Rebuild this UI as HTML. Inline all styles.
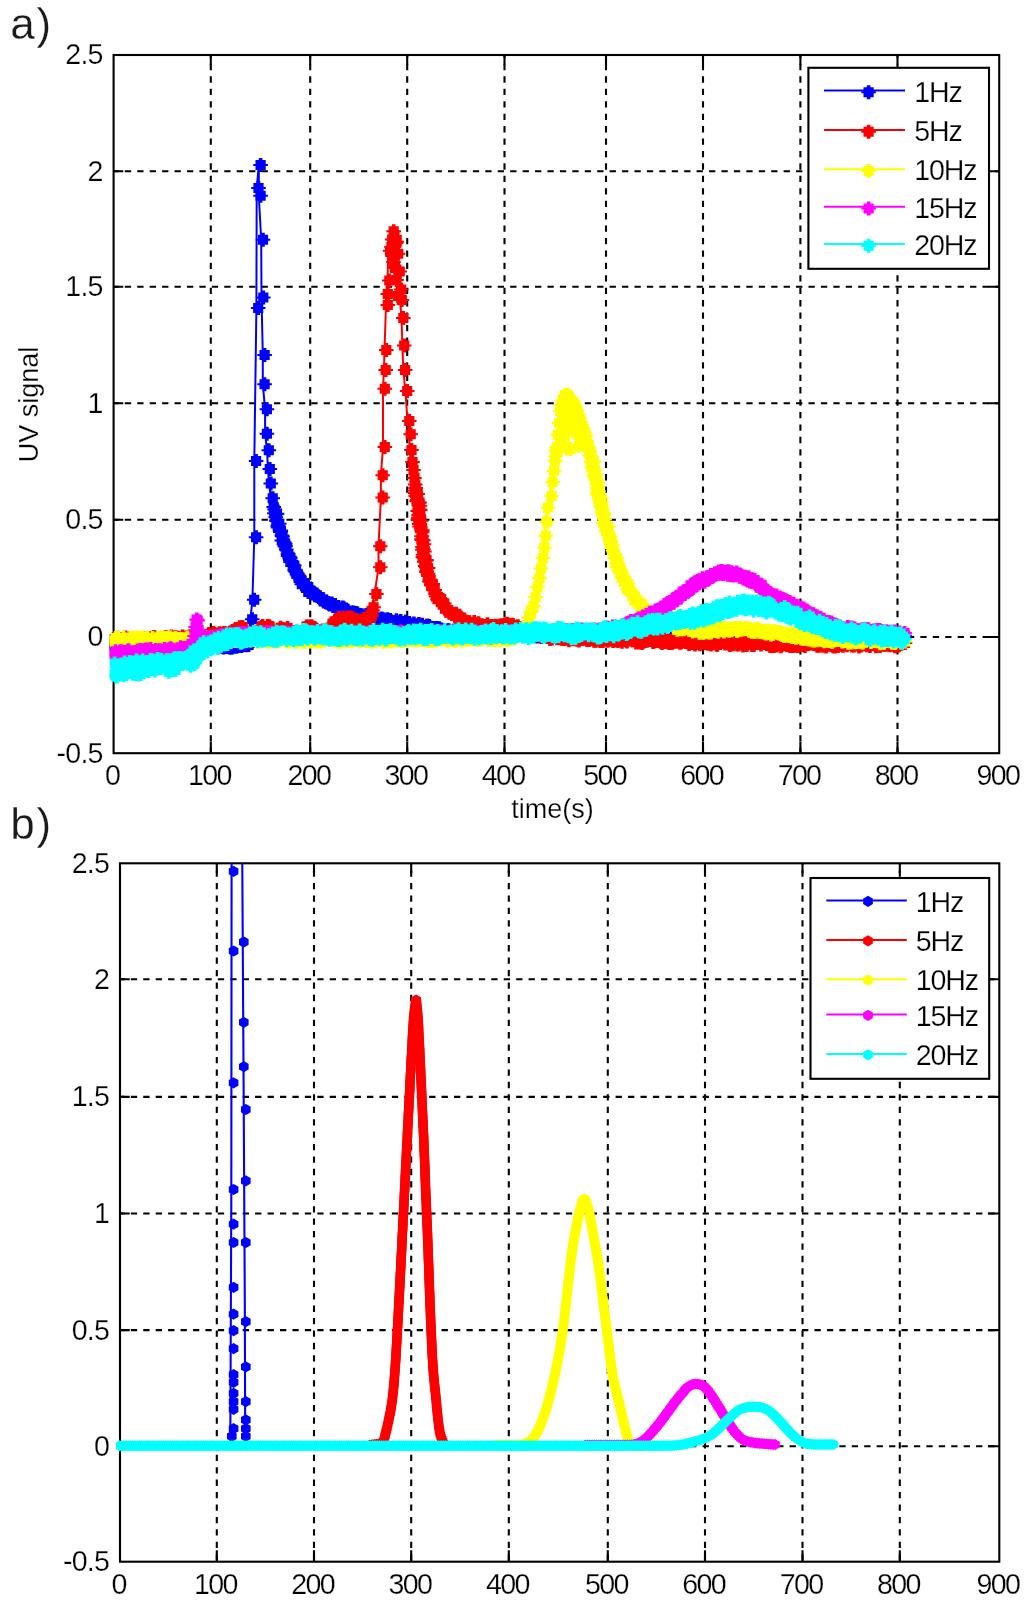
<!DOCTYPE html>
<html lang="en"><head><meta charset="utf-8"><title>UV signal vs time</title>
<style>html,body{margin:0;padding:0;background:#fff;overflow:hidden}svg{display:block;will-change:transform}</style></head><body>
<svg width="1024" height="1609" viewBox="0 0 1024 1609" role="img" aria-label="UV signal versus time at 1, 5, 10, 15 and 20 Hz: a) measured, b) simulated">
<rect width="1024" height="1609" fill="#fff"/>
<defs>
<marker id="mab" markerUnits="userSpaceOnUse" markerWidth="20" markerHeight="18" refX="7.2" refY="9" orient="0"><polygon transform="translate(9 9)" points="-1.8,-7.0 1.8,-7.0 1.8,-5.0 5.1,-5.0 5.1,-1.0 7.3,-1.0 7.3,1.0 5.1,1.0 5.1,5.0 1.8,5.0 1.8,7.0 -1.8,7.0 -1.8,5.0 -5.1,5.0 -5.1,1.0 -7.3,1.0 -7.3,-1.0 -5.1,-1.0 -5.1,-5.0 -1.8,-5.0" fill="#0000ff"/></marker>
<marker id="mbb" markerUnits="userSpaceOnUse" markerWidth="14" markerHeight="14" refX="7" refY="7" orient="0"><polygon transform="translate(7 7)" points="0.00,-5.50 -2.30,-3.98 -4.76,-2.75 -4.60,-0.00 -4.76,2.75 -2.30,3.98 -0.00,5.50 2.30,3.98 4.76,2.75 4.60,0.00 4.76,-2.75 2.30,-3.98" fill="#0000ff"/></marker>
<polygon id="sab" points="-1.8,-7.0 1.8,-7.0 1.8,-5.0 5.1,-5.0 5.1,-1.0 7.3,-1.0 7.3,1.0 5.1,1.0 5.1,5.0 1.8,5.0 1.8,7.0 -1.8,7.0 -1.8,5.0 -5.1,5.0 -5.1,1.0 -7.3,1.0 -7.3,-1.0 -5.1,-1.0 -5.1,-5.0 -1.8,-5.0" fill="#0000ff"/>
<polygon id="sbb" points="0.00,-5.60 -2.40,-4.16 -4.85,-2.80 -4.80,-0.00 -4.85,2.80 -2.40,4.16 -0.00,5.60 2.40,4.16 4.85,2.80 4.80,0.00 4.85,-2.80 2.40,-4.16" fill="#0000ff"/>
<marker id="mar" markerUnits="userSpaceOnUse" markerWidth="20" markerHeight="18" refX="7.2" refY="9" orient="0"><polygon transform="translate(9 9)" points="-1.8,-7.0 1.8,-7.0 1.8,-5.0 5.1,-5.0 5.1,-1.0 7.3,-1.0 7.3,1.0 5.1,1.0 5.1,5.0 1.8,5.0 1.8,7.0 -1.8,7.0 -1.8,5.0 -5.1,5.0 -5.1,1.0 -7.3,1.0 -7.3,-1.0 -5.1,-1.0 -5.1,-5.0 -1.8,-5.0" fill="#ff0000"/></marker>
<marker id="mbr" markerUnits="userSpaceOnUse" markerWidth="14" markerHeight="14" refX="7" refY="7" orient="0"><polygon transform="translate(7 7)" points="0.00,-5.50 -2.30,-3.98 -4.76,-2.75 -4.60,-0.00 -4.76,2.75 -2.30,3.98 -0.00,5.50 2.30,3.98 4.76,2.75 4.60,0.00 4.76,-2.75 2.30,-3.98" fill="#ff0000"/></marker>
<polygon id="sar" points="-1.8,-7.0 1.8,-7.0 1.8,-5.0 5.1,-5.0 5.1,-1.0 7.3,-1.0 7.3,1.0 5.1,1.0 5.1,5.0 1.8,5.0 1.8,7.0 -1.8,7.0 -1.8,5.0 -5.1,5.0 -5.1,1.0 -7.3,1.0 -7.3,-1.0 -5.1,-1.0 -5.1,-5.0 -1.8,-5.0" fill="#ff0000"/>
<polygon id="sbr" points="0.00,-5.60 -2.40,-4.16 -4.85,-2.80 -4.80,-0.00 -4.85,2.80 -2.40,4.16 -0.00,5.60 2.40,4.16 4.85,2.80 4.80,0.00 4.85,-2.80 2.40,-4.16" fill="#ff0000"/>
<marker id="may" markerUnits="userSpaceOnUse" markerWidth="20" markerHeight="18" refX="7.2" refY="9" orient="0"><polygon transform="translate(9 9)" points="-1.8,-7.0 1.8,-7.0 1.8,-5.0 5.1,-5.0 5.1,-1.0 7.3,-1.0 7.3,1.0 5.1,1.0 5.1,5.0 1.8,5.0 1.8,7.0 -1.8,7.0 -1.8,5.0 -5.1,5.0 -5.1,1.0 -7.3,1.0 -7.3,-1.0 -5.1,-1.0 -5.1,-5.0 -1.8,-5.0" fill="#ffff00"/></marker>
<marker id="mby" markerUnits="userSpaceOnUse" markerWidth="14" markerHeight="14" refX="7" refY="7" orient="0"><polygon transform="translate(7 7)" points="0.00,-5.50 -2.30,-3.98 -4.76,-2.75 -4.60,-0.00 -4.76,2.75 -2.30,3.98 -0.00,5.50 2.30,3.98 4.76,2.75 4.60,0.00 4.76,-2.75 2.30,-3.98" fill="#ffff00"/></marker>
<polygon id="say" points="-1.8,-7.0 1.8,-7.0 1.8,-5.0 5.1,-5.0 5.1,-1.0 7.3,-1.0 7.3,1.0 5.1,1.0 5.1,5.0 1.8,5.0 1.8,7.0 -1.8,7.0 -1.8,5.0 -5.1,5.0 -5.1,1.0 -7.3,1.0 -7.3,-1.0 -5.1,-1.0 -5.1,-5.0 -1.8,-5.0" fill="#ffff00"/>
<polygon id="sby" points="0.00,-5.60 -2.40,-4.16 -4.85,-2.80 -4.80,-0.00 -4.85,2.80 -2.40,4.16 -0.00,5.60 2.40,4.16 4.85,2.80 4.80,0.00 4.85,-2.80 2.40,-4.16" fill="#ffff00"/>
<marker id="mam" markerUnits="userSpaceOnUse" markerWidth="20" markerHeight="18" refX="7.2" refY="9" orient="0"><polygon transform="translate(9 9)" points="-1.8,-7.0 1.8,-7.0 1.8,-5.0 5.1,-5.0 5.1,-1.0 7.3,-1.0 7.3,1.0 5.1,1.0 5.1,5.0 1.8,5.0 1.8,7.0 -1.8,7.0 -1.8,5.0 -5.1,5.0 -5.1,1.0 -7.3,1.0 -7.3,-1.0 -5.1,-1.0 -5.1,-5.0 -1.8,-5.0" fill="#ff00ff"/></marker>
<marker id="mbm" markerUnits="userSpaceOnUse" markerWidth="14" markerHeight="14" refX="7" refY="7" orient="0"><polygon transform="translate(7 7)" points="0.00,-5.50 -2.30,-3.98 -4.76,-2.75 -4.60,-0.00 -4.76,2.75 -2.30,3.98 -0.00,5.50 2.30,3.98 4.76,2.75 4.60,0.00 4.76,-2.75 2.30,-3.98" fill="#ff00ff"/></marker>
<polygon id="sam" points="-1.8,-7.0 1.8,-7.0 1.8,-5.0 5.1,-5.0 5.1,-1.0 7.3,-1.0 7.3,1.0 5.1,1.0 5.1,5.0 1.8,5.0 1.8,7.0 -1.8,7.0 -1.8,5.0 -5.1,5.0 -5.1,1.0 -7.3,1.0 -7.3,-1.0 -5.1,-1.0 -5.1,-5.0 -1.8,-5.0" fill="#ff00ff"/>
<polygon id="sbm" points="0.00,-5.60 -2.40,-4.16 -4.85,-2.80 -4.80,-0.00 -4.85,2.80 -2.40,4.16 -0.00,5.60 2.40,4.16 4.85,2.80 4.80,0.00 4.85,-2.80 2.40,-4.16" fill="#ff00ff"/>
<marker id="mac" markerUnits="userSpaceOnUse" markerWidth="20" markerHeight="18" refX="7.2" refY="9" orient="0"><polygon transform="translate(9 9)" points="-1.8,-7.0 1.8,-7.0 1.8,-5.0 5.1,-5.0 5.1,-1.0 7.3,-1.0 7.3,1.0 5.1,1.0 5.1,5.0 1.8,5.0 1.8,7.0 -1.8,7.0 -1.8,5.0 -5.1,5.0 -5.1,1.0 -7.3,1.0 -7.3,-1.0 -5.1,-1.0 -5.1,-5.0 -1.8,-5.0" fill="#00ffff"/></marker>
<marker id="mbc" markerUnits="userSpaceOnUse" markerWidth="14" markerHeight="14" refX="7" refY="7" orient="0"><polygon transform="translate(7 7)" points="0.00,-5.50 -2.30,-3.98 -4.76,-2.75 -4.60,-0.00 -4.76,2.75 -2.30,3.98 -0.00,5.50 2.30,3.98 4.76,2.75 4.60,0.00 4.76,-2.75 2.30,-3.98" fill="#00ffff"/></marker>
<polygon id="sac" points="-1.8,-7.0 1.8,-7.0 1.8,-5.0 5.1,-5.0 5.1,-1.0 7.3,-1.0 7.3,1.0 5.1,1.0 5.1,5.0 1.8,5.0 1.8,7.0 -1.8,7.0 -1.8,5.0 -5.1,5.0 -5.1,1.0 -7.3,1.0 -7.3,-1.0 -5.1,-1.0 -5.1,-5.0 -1.8,-5.0" fill="#00ffff"/>
<polygon id="sbc" points="0.00,-5.60 -2.40,-4.16 -4.85,-2.80 -4.80,-0.00 -4.85,2.80 -2.40,4.16 -0.00,5.60 2.40,4.16 4.85,2.80 4.80,0.00 4.85,-2.80 2.40,-4.16" fill="#00ffff"/>
</defs>
<g id="a">
<g stroke="#000" stroke-width="2.1" fill="none" stroke-dasharray="6.3 6.13">
<path d="M210.8 55V753.2" stroke-dashoffset="3.5"/>
<path d="M310.2 55V753.2" stroke-dashoffset="3.5"/>
<path d="M407.2 55V753.2" stroke-dashoffset="3.5"/>
<path d="M504.5 55V753.2" stroke-dashoffset="3.5"/>
<path d="M606 55V753.2" stroke-dashoffset="3.5"/>
<path d="M703 55V753.2" stroke-dashoffset="3.5"/>
<path d="M800.4 55V753.2" stroke-dashoffset="3.5"/>
<path d="M897.5 55V753.2" stroke-dashoffset="3.5"/>
<path d="M113.6 171.3H999.2" stroke-dashoffset="1.2"/>
<path d="M113.6 286.7H999.2" stroke-dashoffset="1.2"/>
<path d="M113.6 403.2H999.2" stroke-dashoffset="1.2"/>
<path d="M113.6 519.8H999.2" stroke-dashoffset="1.2"/>
<path d="M113.6 637H999.2" stroke-dashoffset="1.2"/>
</g>
<g stroke="#000" stroke-width="2.1" fill="none">
<rect x="113.6" y="55" width="885.6" height="698.2"/>
<path d="M210.8 753.2v-11.4M210.8 55v9.7M310.2 753.2v-11.4M310.2 55v9.7M407.2 753.2v-11.4M407.2 55v9.7M504.5 753.2v-11.4M504.5 55v9.7M606 753.2v-11.4M606 55v9.7M703 753.2v-11.4M703 55v9.7M800.4 753.2v-11.4M800.4 55v9.7M897.5 753.2v-11.4M897.5 55v9.7M113.6 171.3h9.7M999.2 171.3h-11.4M113.6 286.7h9.7M999.2 286.7h-11.4M113.6 403.2h9.7M999.2 403.2h-11.4M113.6 519.8h9.7M999.2 519.8h-11.4M113.6 637h9.7M999.2 637h-11.4"/>
</g>
<clipPath id="clipa"><rect x="109.6" y="55" width="893.6" height="698.2"/></clipPath>
<g clip-path="url(#clipa)">
<polyline points="111.8,645.6 112.8,645.1 113.8,646.3 114.8,644.9 115.8,646 116.8,645.6 117.8,644.8 118.8,645.8 119.8,644.7 120.8,645.6 121.8,644.7 122.8,644.7 123.8,645.5 124.8,646.5 125.8,644.8 126.8,645 127.8,645.9 128.8,646.7 129.8,645.8 130.8,645.3 131.8,646.7 132.8,644.4 133.8,646.3 134.8,645 135.8,644.6 136.8,644.5 137.8,645 138.8,646.1 139.8,644.6 140.8,645.6 141.8,645.7 142.8,645 143.8,645.4 144.8,644.2 145.8,644.2 146.8,644.6 147.8,645.7 148.8,645.1 149.8,644.8 150.8,645.4 151.8,645.1 152.8,644.7 153.8,645.9 154.8,645.6 155.8,644.5 156.8,645.3 157.8,645.2 158.8,646 159.8,645.6 160.8,644.6 161.8,646.2 162.8,644.1 163.8,644.9 164.8,645.7 165.8,644.2 166.8,645 167.8,643.9 168.8,645.4 169.8,645.7 170.8,645.2 171.8,645.9 172.8,644.6 173.8,645.5 174.8,645.2 175.8,645.2 176.8,644.9 177.8,645.8 178.8,646.1 179.8,644.9 180.8,645.4 181.8,643.9 182.8,645.5 183.8,645.4 184.8,646.2 185.8,645.8 186.8,644.5 187.8,644.7 188.8,645.4 189.8,643.9 190.8,644.9 191.8,644.2 192.8,644.1 193.8,643.9 194.8,645.6 195.8,644.1 196.8,644.4 197.8,644.7 198.8,645.9 199.8,644 200.8,644.9 201.8,645.1 202.8,645.9 203.8,645.8 204.8,645.9 205.8,644.6 206.8,645 207.8,644.9 208.8,646.3 209.8,646.6 210.8,644.8 211.8,645 212.8,645.3 213.8,645.4 214.8,646.1 215.8,646.5 216.8,645.8 217.8,645.2 218.8,646.3 219.8,646.2 220.8,646.7 221.8,647.6 222.8,647 223.8,646.5 224.8,646.8 225.8,646.9 226.8,645.4 227.8,647.5 228.8,647.2 229.8,647.4 230.8,647.2 231.8,646.2 232.8,646.3 233.8,645.5 234.8,646.8 235.8,645.4 236.8,645.4 237.8,645.7 238.8,645.5 239.8,645.9 240.8,645.1 241.8,644.8 242.8,645.1 243.8,644.8 244.8,645.2 245.8,644.1 246.8,645 247.8,642.8 250.4,619.3 252.4,599.7 254.3,537.2 254.3,461 256.4,308 256.7,188 258.8,165 258.8,195.7 261.2,239.7 261.5,297.5 262.8,354.9 262.8,384.3 265.1,409.3 265.1,433.7 267,450.3 268,468.9 269,483.5 270.9,498.2 271.9,507 272.8,509.4 272.6,513.3 275.2,513.8 274.4,514.2 273.9,517.2 274.7,521.1 275,519.8 277.4,523.8 276,525.8 276.2,527.6 279,530.9 278.9,530.5 278.6,532 280.1,535.4 280.7,536.5 280,540.4 282.5,542.4 282.8,544.1 283.4,543.7 283.6,546 283.1,546.6 284.5,549.4 286.2,554.1 286.3,555.9 288.4,557.8 287.6,556.7 288.1,558.5 288.8,562 291.2,564.8 291,565.9 292.5,565.4 293,570.6 294.1,571.8 294.1,571.4 295.7,573.8 296.9,578 297.1,577.3 299.6,580.3 298.9,579.5 300,584.3 302.8,582.9 304.2,587.6 305.2,586.5 306.4,587.1 306.5,591.9 309.5,591.5 311.7,592.5 313,595.3 313,594.3 314.7,595.6 317,596.9 318.3,597.5 321.2,599.4 321.8,601.4 324.6,601.8 326.4,603 327.3,604 327.9,604.5 330.1,603.5 333.4,605.1 334.5,608.1 336.6,607.2 338.4,608.7 341,607.4 342.3,608.6 343.6,611.3 346.1,611 348.6,613 349.8,612.4 351.8,612.5 354.2,612.9 355.7,613.5 358.7,615 360.4,616.5 360.9,615.5 364.4,617.2 364.4,614.9 367.1,615.3 368.6,615.8 371.5,619.2 374,617.3 375.5,619.8 376.1,620.9 380.1,618.6 382,619.6 382.9,622.3 385.7,619.3 386.7,621 388.5,620 390.4,622.4 391.7,622 394.7,620.2 396.4,622.9 398.9,621 402,624.2 403.9,621.8 404.2,621.8 407.4,623.1 407.9,624 411.7,625.9 412.1,623.5 415.7,625.6 417.1,624 417.6,626.8 420.4,624.8 423.6,627.4 425.3,625.6 427.4,625.9 429.3,627.9 430.1,628.7 433.4,627.9 433.5,629.3 435.7,628.1 437.5,628.2 439.6,629.5 441.8,631.6 443.8,630.8 445.5,630.5 447.1,630.3 449.1,632.5 452.4,630.6 454.2,633.9 455.3,633.7 458.1,632.7 461,632.5 462.2,634 465.4,632.8 467,634.6 468.5,633.6 469.2,633.3 470.7,632 472.2,632.4 473.7,632.1 475.2,635.1 476.7,633 478.2,632.6 479.7,632.3 481.2,635.6 482.7,635.7 484.2,634.9 485.7,633.2 487.2,633 488.7,633.3 490.2,634 491.7,632.7 493.2,634 494.7,633.2 496.2,636.3 497.7,636.3 499.2,634.5 500.7,633.2 502.2,636.4 503.7,633.5 505.2,633.7 506.7,632.2 508.2,633.9 509.7,634.3 511.2,634.4 512.7,633.1 514.2,634.5 515.7,632.3 517.2,633.4 518.7,632.7 520.2,634.1 521.7,632.5 523.2,632.5 524.7,633.7 526.2,633.4 527.7,635 529.2,634.8 530.7,635.8 532.2,635.4 533.7,635.7 535.2,636.5 536.7,634.3 538.2,634.1 539.7,637 541.2,633.4 542.7,635.9 544.2,635.6 545.7,633 547.2,636.5 548.7,636.8 550.2,635.7 551.7,636.2 553.2,636.6 554.7,633.6 556.2,635.4 557.7,635.3 559.2,636.8 560.7,636.7 562.2,636.8 563.7,635.8 565.2,637.2 566.7,636.3 568.2,636.4 569.7,634.4 571.2,633.5 572.7,634 574.2,635.1 575.7,634 577.2,637.2 578.7,636 580.2,636.3 581.7,636.4 583.2,636.6 584.7,635.8 586.2,633.7 587.7,637.2 589.2,637 590.7,635.9 592.2,636.1 593.7,636.7 595.2,634.1 596.7,637 598.2,634.9 599.7,634.1 601.2,635 602.7,637 604.2,634.7 605.7,637.1 607.2,638.2 608.7,636 610.2,635.6 611.7,636 613.2,636.9 614.7,637.3 616.2,636.6 617.7,636.8 619.2,634.3 620.7,634.6 622.2,635.1 623.7,637.2 625.2,635.3 626.7,636.5 628.2,634 629.7,634.3 631.2,635.2 632.7,637 634.2,637.1 635.7,637 637.2,635.3 638.7,636.3 640.2,636.1 641.7,636.1 643.2,634.6 644.7,638 646.2,635 647.7,638.4 649.2,638.2 650.7,634.2 652.2,636.1 653.7,637.7 655.2,638.4 656.7,636.1 658.2,635.3 659.7,635.1 661.2,638.3 662.7,635.1 664.2,636.7 665.7,634.8 667.2,636.5 668.7,638.4 670.2,634.8 671.7,637.8 673.2,636.5 674.7,638.1 676.2,637.3 677.7,635.3 679.2,638.2 680.7,636.4 682.2,634.4 683.7,634.3 685.2,636.4 686.7,636.3 688.2,635.6 689.7,634.9 691.2,635.8 692.7,635.7 694.2,638 695.7,634.3 697.2,637.6 698.7,638 700.2,634.9 701.7,638.4 703.2,637.5 704.7,638.3 706.2,635.7 707.7,636 709.2,636.1 710.7,638.8 712.2,637 713.7,636 715.2,636.3 716.7,635.6 718.2,634.6 719.7,634.9 721.2,638.1 722.7,635.7 724.2,638.6 725.7,635.6 727.2,635.6 728.7,636.7 730.2,635.3 731.7,636.1 733.2,638.7 734.7,638.4 736.2,638.1 737.7,637.3 739.2,638.5 740.7,638.7 742.2,636.9 743.7,637.7 745.2,634.7 746.7,637.8 748.2,636.5 749.7,637.9 751.2,637.4 752.7,635.8 754.2,634.8 755.7,638.6 757.2,635.1 758.7,636.6 760.2,636.1 761.7,635.9 763.2,637.8 764.7,638.9 766.2,635.7 767.7,637.5 769.2,635.9 770.7,637.1 772.2,636.3 773.7,635.4 775.2,635.3 776.7,635.5 778.2,638.6 779.7,636.8 781.2,635.6 782.7,638.6 784.2,639 785.7,636.6 787.2,635.3 788.7,635.5 790.2,635.1 791.7,636.2 793.2,635.1 794.7,635.7 796.2,635.8 797.7,637.2 799.2,638.6 800.7,638 802.2,636.5 803.7,636.5 805.2,637 806.7,636.4 808.2,636.2 809.7,635 811.2,635.9 812.7,639 814.2,635.3 815.7,636.9 817.2,637.5 818.7,638.5 820.2,635.7 821.7,635.9 823.2,635.8 824.7,636.5 826.2,636.7 827.7,638.9 829.2,638.5 830.7,638.6 832.2,634.8 833.7,634.9 835.2,637.9 836.7,638.7 838.2,636.8 839.7,637.3 841.2,634.8 842.7,636.5 844.2,638.8 845.7,638.4 847.2,638.5 848.7,639 850.2,635.9 851.7,635.3 853.2,635.5 854.7,637.1 856.2,637.8 857.7,638.9 859.2,638 860.7,637.6 862.2,638.1 863.7,636.8 865.2,637.2 866.7,635 868.2,638.2 869.7,635.8 871.2,638.8 872.7,637.6 874.2,636.1 875.7,635.4 877.2,635.9 878.7,637.6 880.2,637.9 881.7,635.3 883.2,635.1 884.7,637.1 886.2,637.4 887.7,636.5 889.2,635.8 890.7,637.4 892.2,634.8 893.7,636.1 895.2,636.8 896.7,639 898.2,637.6 899.7,638.7 901.2,636.9 902.7,635.8" fill="none" stroke="#0000ff" stroke-width="2" stroke-linejoin="round" marker-start="url(#mab)" marker-mid="url(#mab)" marker-end="url(#mab)"/>
<polyline points="111.8,639.1 112.8,643.4 113.8,641.8 114.8,639.4 115.8,637.7 116.8,640.5 117.8,641.6 118.8,640 119.8,639 120.8,641.5 121.8,643 122.8,638.8 123.8,637.6 124.8,639.5 125.8,639.9 126.8,641.5 127.8,638.6 128.8,642.1 129.8,641.8 130.8,640.4 131.8,638.5 132.8,643.1 133.8,639.2 134.8,642.2 135.8,638.6 136.8,638.6 137.8,641.8 138.8,639 139.8,642.9 140.8,640.1 141.8,638.3 142.8,638.5 143.8,639.6 144.8,641.1 145.8,642.7 146.8,637.9 147.8,639.4 148.8,638.3 149.8,642.8 150.8,637.8 151.8,637.2 152.8,637.3 153.8,639.2 154.8,642.3 155.8,642.2 156.8,641.2 157.8,642.8 158.8,642.4 159.8,638.8 160.8,637.9 161.8,642.4 162.8,641.2 163.8,636.9 164.8,640.7 165.8,638.9 166.8,638.9 167.8,638.6 168.8,637.6 169.8,636.6 170.8,638.2 171.8,638.6 172.8,642.2 173.8,637.2 174.8,642.2 175.8,637.7 176.8,638.5 177.8,641.3 178.8,641.3 179.8,638.9 180.8,636.6 181.8,639.1 182.8,638.5 183.8,641.7 184.8,637.3 185.8,638.3 186.8,641.4 187.8,636.2 188.8,638.4 189.8,640.8 190.8,640.5 191.8,636.1 192.8,636 193.8,636.1 194.8,641.2 195.8,637.2 196.8,640.1 197.8,640.9 198.8,637.5 199.8,637 200.8,641 201.8,638.7 202.8,636.4 203.8,638.9 204.8,636.3 205.8,635.8 206.8,633.9 207.8,638.2 208.8,638.9 209.8,637 210.8,638.6 211.8,632.9 212.8,634 213.8,635.3 214.8,638 215.8,637.8 216.8,634.2 217.8,633.2 218.8,634.1 219.8,634.3 220.8,635.1 221.8,633.3 222.8,633.1 223.8,633.4 224.8,634.2 225.8,634.1 226.8,633.9 227.8,632.7 228.8,634.8 229.8,634.4 230.8,632.7 231.8,634.3 232.8,630.3 233.8,629 234.8,632.3 235.8,634.2 236.8,630.1 237.8,627.3 238.8,629.4 239.8,627.7 240.8,627.1 241.8,632.5 242.8,633 243.8,634.6 244.8,632.5 245.8,634.1 246.8,633.3 247.8,633.9 248.8,632.8 249.8,634.4 250.8,634.3 251.8,634.3 252.8,634.5 253.8,632.3 254.8,633.3 255.8,634 256.8,633.8 257.8,632 258.8,633.5 259.8,626.9 260.8,626 261.8,628.4 262.8,632.5 263.8,634.9 264.8,630 265.8,626.1 266.8,626.3 267.8,626.6 268.8,633.7 269.8,634.2 270.8,632.7 271.8,632.2 272.8,634.7 273.8,633.2 274.8,633.1 275.8,634.3 276.8,633.9 277.8,629.6 278.8,627.8 279.8,629.6 280.8,629 281.8,629.7 282.8,629.6 283.8,633.4 284.8,630 285.8,628 286.8,633.1 287.8,634.7 288.8,634.5 289.8,632.9 290.8,633.8 291.8,634.2 292.8,634.1 293.8,632.1 294.8,634.1 295.8,633.3 296.8,633.9 297.8,633.8 298.8,632.4 299.8,632 300.8,633.9 301.8,634.4 302.8,632.8 303.8,634.4 304.8,626.4 305.8,626.8 306.8,626.5 307.8,629.7 308.8,627.9 309.8,626.3 310.8,627.5 311.8,628 312.8,629 313.8,633.2 314.8,631.9 315.8,634.3 316.8,633.1 317.8,632.1 318.8,631.6 319.8,633.8 320.8,630.6 321.8,635.4 322.8,635.6 323.8,632.5 324.8,629.9 325.8,634.9 326.8,630.7 327.8,632.5 328.8,629.2 329.8,628.8 330.8,623.4 331.8,626.1 332.8,621.6 333.8,621.6 334.8,623.3 335.8,622.4 336.8,618.1 337.8,618.3 338.8,619.4 339.8,620.1 340.8,619.4 341.8,617.8 342.8,618.6 343.8,621.5 344.8,622.6 345.8,617.5 346.8,620.7 347.8,621.9 348.8,617.6 349.8,622.5 350.8,618.2 351.8,621.2 352.8,621.1 353.8,621.7 354.8,619.9 355.8,620.7 356.8,621.9 357.8,621.1 358.8,622.6 359.8,621.5 360.8,621.5 361.8,619.1 362.8,622.7 363.8,621.9 364.8,620 365.8,622.6 366.8,622 367.8,619.1 368.8,616.3 369.8,615.8 370.8,610.6 371.8,607.2 374.6,594 378.5,567.2 378.5,546.3 380.9,497.6 380.9,475.2 383,446.9 383,388.7 383.9,370.1 384.5,350.1 386,305.1 386,294 387.5,280.6 388.3,250.7 390.4,239.5 391.9,231.3 389.7,247 392.7,236 390.7,256 394.2,243 391.7,262 394.9,241.8 393.2,268 396.4,253.7 394.7,280 397.9,271.6 396.2,296 399.4,289.6 400,300 401.5,317.9 402.4,345.4 403.3,370.1 405.4,391 407.5,420.9 408.9,434.3 409.7,450 410.7,462 411.7,470 412.7,478 413.5,484.4 413.9,488 413,490.5 413.4,492.9 415.9,494 414,495.9 415.3,499.7 414.8,501.3 417.6,502.8 417.3,502.6 418,505.8 418.1,509.5 415.9,511 418.4,510.1 416.9,514.9 416.5,517.4 417.1,519.1 416.9,519.9 419.4,520.7 417.6,523.9 418,524 417.8,526.5 420.3,530.5 420.4,530.5 420.3,532.3 419.8,536.3 419.6,539.3 420.4,540.1 421.6,540.2 422.2,544.3 420.7,546.9 420.6,549.7 421.7,549.2 422.6,551.5 421.2,554.7 421.1,557 422.1,558.2 424.7,560 424.1,560.8 422.5,561.7 423.3,566 424.5,567.6 426.3,568 424.8,572 424.7,571.4 426.3,573.7 426.8,576.1 428.1,579.5 427.5,581.6 428.8,581.5 430.9,583.9 429.4,585.1 431.7,590 432.9,590 432.2,590.2 434.2,594.3 434.3,596.4 435.7,599.2 437.6,598.1 439.3,599 439.3,602.1 439.5,602.3 442.5,603.6 443.2,608.8 443.3,607.3 446.1,610 447.6,612.7 447.5,612.2 449.7,612.1 453.2,616 454.5,613.8 456.6,617.7 457.3,618.6 459,617.5 459.7,618.5 461.3,619.8 465.3,622 467.5,622.5 467.7,622.3 470.2,623.7 472.4,622 474.8,625.3 475.4,625.4 476.8,623.3 479.4,625.7 483.5,626 483.7,626.7 485.7,624.3 489.4,626 490.8,626.3 493.6,625.7 495.2,626.7 497.3,625.8 498.9,626.5 499.6,625.2 502.6,624.8 503.2,629.1 504.2,624.4 505.2,623.8 506.2,624.5 507.2,630 508.2,626.5 509.2,625.4 510.2,624.8 511.2,625.1 512.2,629.5 513.2,629.3 514.2,629.9 515.2,630.4 516.2,626.3 517.2,629.9 518.2,628.6 519.2,631.8 520.2,632 521.2,632.7 522.2,627.7 523.2,633.1 524.2,633.7 525.2,634.1 526.2,629.1 527.2,630 528.2,629.7 529.2,629.5 530.2,635 531.2,635 532.2,634.2 533.2,635.6 534.2,634.7 535.2,632.7 536.2,631.7 537.2,632 538.2,636.4 539.2,633 540.2,633.9 541.2,634.8 542.2,632.3 543.2,633.9 544.2,634.2 545.2,637.1 546.2,634.9 547.2,634.7 548.2,638.9 549.2,636.1 550.2,638.4 551.2,637 552.2,633.3 553.2,635.8 554.2,636 555.2,638.2 556.2,635.6 557.2,637.9 558.2,636.9 559.2,634.9 560.2,639.1 561.2,634.3 562.2,639 563.2,634.9 564.2,633.9 565.2,635.2 566.2,638.8 567.2,640.3 568.2,634.1 569.2,637.3 570.2,637.3 571.2,639.3 572.2,635.5 573.2,637.5 574.2,636.6 575.2,639.7 576.2,636.1 577.2,640.5 578.2,636.3 579.2,635.9 580.2,639.1 581.2,637.8 582.2,635.4 583.2,638.8 584.2,635.3 585.2,639.9 586.2,639.3 587.2,639.9 588.2,638.9 589.2,637.2 590.2,637.6 591.2,637.6 592.2,640.8 593.2,635.7 594.2,640.8 595.2,635.3 596.2,636.5 597.2,636.9 598.2,641.1 599.2,638.5 600.2,637.8 601.2,641.1 602.2,636.9 603.2,638.4 604.2,638.9 605.2,640.4 606.2,640.4 607.2,639.8 608.2,637.9 609.2,637.8 610.2,636.7 611.2,641.1 612.2,640 613.2,640.6 614.2,636.9 615.2,638.7 616.2,640.9 617.2,639.6 618.2,636.8 619.2,638.9 620.2,641.7 621.2,637.6 622.2,637.3 623.2,638 624.2,640.6 625.2,641.6 626.2,637.2 627.2,637.2 628.2,637.8 629.2,638.4 630.2,639.6 631.2,637.4 632.2,638.4 633.2,637.6 634.2,642.6 635.2,641.1 636.2,637.1 637.2,642.6 638.2,637.2 639.2,639 640.2,642.9 641.2,641.7 642.2,641.3 643.2,639.4 644.2,637.9 645.2,640.8 646.2,637.4 647.2,638.1 648.2,639.3 649.2,637 650.2,639.4 651.2,642 652.2,641.4 653.2,640.2 654.2,641 655.2,640 656.2,638 657.2,640.9 658.2,639.7 659.2,641.9 660.2,643 661.2,640 662.2,640.9 663.2,642.1 664.2,640 665.2,638.8 666.2,642 667.2,643 668.2,642.4 669.2,641.9 670.2,642.9 671.2,641.9 672.2,641.7 673.2,640.5 674.2,639.6 675.2,641.7 676.2,638.3 677.2,640.4 678.2,642.7 679.2,642.3 680.2,641.8 681.2,639.4 682.2,640.6 683.2,640.8 684.2,641.9 685.2,640.6 686.2,642.3 687.2,644 688.2,639.2 689.2,642.3 690.2,643.1 691.2,640.6 692.2,641.3 693.2,644.4 694.2,638.4 695.2,641.7 696.2,639.3 697.2,643.3 698.2,644.3 699.2,641.6 700.2,639 701.2,642.1 702.2,641.9 703.2,643 704.2,641.7 705.2,642.6 706.2,643.8 707.2,641.9 708.2,641.2 709.2,644.6 710.2,640 711.2,643 712.2,641.2 713.2,643.6 714.2,639.5 715.2,645 716.2,641 717.2,639.2 718.2,640.6 719.2,641.4 720.2,639 721.2,641.6 722.2,641.6 723.2,643.4 724.2,641.2 725.2,640.7 726.2,640.5 727.2,643.8 728.2,645.1 729.2,642.5 730.2,640.5 731.2,644.3 732.2,641.7 733.2,640.6 734.2,640.1 735.2,644.2 736.2,644.5 737.2,643.4 738.2,642.4 739.2,643 740.2,640.9 741.2,645.6 742.2,641.7 743.2,643.6 744.2,644.7 745.2,644.8 746.2,642.6 747.2,641.5 748.2,643.1 749.2,640.4 750.2,645 751.2,641.9 752.2,645.1 753.2,641.4 754.2,642.2 755.2,641.4 756.2,642.5 757.2,641 758.2,639.8 759.2,644.5 760.2,641.7 761.2,641.5 762.2,641.8 763.2,643 764.2,642.7 765.2,644 766.2,644.2 767.2,642.3 768.2,646 769.2,645.5 770.2,640.4 771.2,645.4 772.2,645.9 773.2,645.1 774.2,641 775.2,645.5 776.2,644.2 777.2,640.3 778.2,640.2 779.2,646.3 780.2,644.4 781.2,641.8 782.2,640.9 783.2,641.1 784.2,641.7 785.2,645.2 786.2,642.5 787.2,641.2 788.2,646.1 789.2,645.3 790.2,641.4 791.2,646 792.2,644.2 793.2,645.3 794.2,644.6 795.2,646 796.2,645.3 797.2,645.7 798.2,641.6 799.2,644.7 800.2,643.7 801.2,645 802.2,643.1 803.2,645.9 804.2,643.9 805.2,642 806.2,641.8 807.2,641.2 808.2,643.5 809.2,640.7 810.2,643.3 811.2,641.2 812.2,643.4 813.2,643.5 814.2,643.8 815.2,645.8 816.2,640.3 817.2,645.7 818.2,643.3 819.2,643.9 820.2,644.6 821.2,645.7 822.2,642.7 823.2,643 824.2,646.4 825.2,640.8 826.2,644.4 827.2,644.4 828.2,640.5 829.2,644.2 830.2,644.7 831.2,646.3 832.2,642.4 833.2,646.6 834.2,643.6 835.2,643.4 836.2,646 837.2,640.5 838.2,644.9 839.2,644.3 840.2,642.5 841.2,645.8 842.2,642.6 843.2,643.3 844.2,643.7 845.2,645.2 846.2,641.6 847.2,643.1 848.2,643 849.2,643.8 850.2,645.6 851.2,642.2 852.2,645.6 853.2,642.9 854.2,643.5 855.2,642 856.2,643.5 857.2,646.5 858.2,644.5 859.2,645.4 860.2,642.4 861.2,642.3 862.2,642.2 863.2,644.1 864.2,644.4 865.2,645.3 866.2,640.6 867.2,644.9 868.2,646 869.2,643.8 870.2,640.6 871.2,642.2 872.2,640.3 873.2,641.5 874.2,646.2 875.2,644.2 876.2,644.5 877.2,645.3 878.2,646.1 879.2,644.2 880.2,644.2 881.2,644.3 882.2,644.8 883.2,644.1 884.2,644.7 885.2,641.7 886.2,644.6 887.2,643.2 888.2,645.2 889.2,640.9 890.2,641.5 891.2,640.5 892.2,645.3 893.2,646.2 894.2,644.5 895.2,642.7 896.2,645.6 897.2,645.3 898.2,643.9 899.2,642 900.2,642.2 901.2,643 902.2,642.3 903.2,643.1" fill="none" stroke="#ff0000" stroke-width="2" stroke-linejoin="round" marker-start="url(#mar)" marker-mid="url(#mar)" marker-end="url(#mar)"/>
<polyline points="111.8,640.6 112.8,641.9 113.8,638 114.8,640.3 115.8,637.9 116.8,638.3 117.8,641.3 118.8,640.3 119.8,641.8 120.8,639.7 121.8,637.8 122.8,639.4 123.8,640.3 124.8,641.8 125.8,642 126.8,639.8 127.8,639.5 128.8,638.1 129.8,640.5 130.8,638.6 131.8,638.3 132.8,637.7 133.8,637.6 134.8,640.6 135.8,638.1 136.8,641.8 137.8,638 138.8,641.4 139.8,638.1 140.8,637.6 141.8,640.7 142.8,638.6 143.8,640.8 144.8,638.4 145.8,637.7 146.8,640.9 147.8,640.6 148.8,641.3 149.8,640.7 150.8,637.9 151.8,640.2 152.8,640.6 153.8,639.5 154.8,641.6 155.8,638.6 156.8,641.7 157.8,640.6 158.8,637.5 159.8,637.5 160.8,640.3 161.8,641 162.8,637.8 163.8,638.8 164.8,640.6 165.8,638.1 166.8,641.2 167.8,639.5 168.8,637.6 169.8,639 170.8,639.9 171.8,639.3 172.8,640.3 173.8,638 174.8,640.9 175.8,638.9 176.8,640.2 177.8,640.1 178.8,639.2 179.8,639 180.8,640.8 181.8,641.5 182.8,640.8 183.8,639.8 184.8,638.6 185.8,637.6 186.8,641.6 187.8,640.4 188.8,640.9 189.8,638.8 190.8,640 191.8,641.6 192.8,641 193.8,639.9 194.8,638.7 195.8,639.2 196.8,641.2 197.8,639 198.8,640.3 199.8,639.9 200.8,641.2 201.8,640.9 202.8,638.5 203.8,637.3 204.8,638.5 205.8,639.2 206.8,639.9 207.8,640.9 208.8,641.2 209.8,637.5 210.8,641 211.8,640.9 212.8,641.1 213.8,639.8 214.8,638.5 215.8,641 216.8,640.9 217.8,640.3 218.8,641.3 219.8,638.8 220.8,637.7 221.8,639.7 222.8,640.8 223.8,638.2 224.8,640.6 225.8,641.4 226.8,638.3 227.8,640 228.8,640.3 229.8,639.3 230.8,638.2 231.8,638.4 232.8,640.6 233.8,640.8 234.8,639.3 235.8,637.7 236.8,640.8 237.8,640.7 238.8,638.3 239.8,639.9 240.8,641.2 241.8,641.2 242.8,639.6 243.8,639.4 244.8,639.9 245.8,638.1 246.8,638.1 247.8,638.1 248.8,640.4 249.8,638.9 250.8,639.8 251.8,639.1 252.8,639.6 253.8,638 254.8,637.5 255.8,641.7 256.8,638.9 257.8,637.8 258.8,640.1 259.8,640.8 260.8,638 261.8,639.9 262.8,638.8 263.8,639.6 264.8,637.4 265.8,637.4 266.8,641.7 267.8,641.1 268.8,639.4 269.8,639.8 270.8,638.5 271.8,640.7 272.8,639.2 273.8,641.5 274.8,640.7 275.8,640.9 276.8,641.5 277.8,638.4 278.8,637.5 279.8,638.2 280.8,638.1 281.8,637.7 282.8,637.5 283.8,639.8 284.8,641.1 285.8,639.3 286.8,641.5 287.8,641.3 288.8,637.6 289.8,639.9 290.8,639 291.8,637.8 292.8,641.5 293.8,638.4 294.8,639.8 295.8,640.1 296.8,641.5 297.8,640.2 298.8,639 299.8,639.3 300.8,638 301.8,641.5 302.8,641.7 303.8,638.3 304.8,637.5 305.8,638.4 306.8,638.8 307.8,641.3 308.8,641.3 309.8,641 310.8,637.5 311.8,640.8 312.8,640.4 313.8,640.1 314.8,641.6 315.8,637.5 316.8,637.9 317.8,640.6 318.8,641.4 319.8,640.3 320.8,638.6 321.8,639.9 322.8,640.6 323.8,637.8 324.8,638.7 325.8,638.4 326.8,637.8 327.8,639.4 328.8,638 329.8,638.3 330.8,637.9 331.8,640.3 332.8,637.3 333.8,640.4 334.8,638.1 335.8,637.4 336.8,641.4 337.8,638.2 338.8,641.4 339.8,641.1 340.8,641.2 341.8,637.9 342.8,639.2 343.8,637.7 344.8,641.3 345.8,641 346.8,640 347.8,639.2 348.8,638.7 349.8,640.9 350.8,639.3 351.8,640 352.8,637.9 353.8,638.2 354.8,637.5 355.8,640.4 356.8,639.7 357.8,637.9 358.8,641.1 359.8,638.4 360.8,639 361.8,637.9 362.8,638.4 363.8,640.9 364.8,638.7 365.8,637.9 366.8,639.4 367.8,638.6 368.8,641.2 369.8,637.7 370.8,641.5 371.8,637.4 372.8,641.1 373.8,640.1 374.8,638.1 375.8,639.3 376.8,638.4 377.8,638.3 378.8,638 379.8,638.8 380.8,641.5 381.8,641.5 382.8,641.2 383.8,637.6 384.8,638.4 385.8,641.1 386.8,637.4 387.8,640.3 388.8,638.4 389.8,641.4 390.8,637.2 391.8,640.6 392.8,638.6 393.8,637.7 394.8,637.1 395.8,640.7 396.8,639.4 397.8,637.9 398.8,639 399.8,641.1 400.8,638 401.8,639.6 402.8,637.6 403.8,637.8 404.8,640.4 405.8,640.1 406.8,637.9 407.8,637.3 408.8,637.4 409.8,639.7 410.8,639.2 411.8,638.2 412.8,637.9 413.8,639.7 414.8,640.1 415.8,640.5 416.8,639.5 417.8,637.8 418.8,637.2 419.8,640.1 420.8,638.7 421.8,640.1 422.8,637.1 423.8,640.4 424.8,638.3 425.8,640.6 426.8,640.7 427.8,639 428.8,636.9 429.8,640.8 430.8,638.9 431.8,640.6 432.8,638 433.8,637.6 434.8,640.4 435.8,638.4 436.8,637.5 437.8,638.4 438.8,639.4 439.8,636.7 440.8,639 441.8,638.7 442.8,639 443.8,637.2 444.8,639.8 445.8,640.3 446.8,640.5 447.8,638.1 448.8,639.8 449.8,638.3 450.8,639.9 451.8,636.9 452.8,640.4 453.8,640.8 454.8,638.7 455.8,638.8 456.8,638.9 457.8,638.9 458.8,636.6 459.8,640.8 460.8,637.5 461.8,637.3 462.8,636.9 463.8,637.5 464.8,640 465.8,636.5 466.8,636.8 467.8,639.5 468.8,637.2 469.8,636.4 470.8,639 471.8,638.9 472.8,638.6 473.8,639.4 474.8,636.7 475.8,640.1 476.8,639.4 477.8,636.4 478.8,636.8 479.8,638.4 480.8,638.4 481.8,637.4 482.8,636.7 483.8,637.9 484.8,636.7 485.8,638.7 486.8,639.9 487.8,636.7 488.8,638.6 489.8,639.3 490.8,636.7 491.8,639.6 492.8,640.1 493.8,637.7 494.8,637.8 495.8,639.6 496.8,638.2 497.8,637.6 498.8,640 499.8,639.3 500.8,637.3 501.8,636.9 502.8,637.3 503.8,637.7 504.8,640 505.8,639.1 506.8,639.5 507.8,638.8 508.8,638.8 509.8,635 510.8,636.8 511.8,638.4 512.8,638 513.8,634.7 514.8,635.1 515.8,635.7 516.8,634.2 517.8,634.5 518.8,632.2 519.8,633.4 520.8,633.4 521.8,631 524.7,626 527.2,617.8 529.2,612 531.7,606.1 533.7,597 535.7,587.3 537.7,578 539.2,568.6 541.2,558 542.7,547.5 543.9,535.8 545.1,521.7 546.2,507.6 549.8,495.9 550.9,481.9 552.2,471 553.3,460.8 553.7,456.6 554.3,451 554.9,447.3 555.5,450.3 556.1,434.7 556.7,446.9 557.3,423.1 557.9,447.4 558.5,410.9 559.1,437.7 559.7,405.1 560.3,437.4 560.9,400.2 561.5,430.2 562.1,400 562.7,433 563.3,395.3 563.9,427.6 564.5,394.9 565.1,448.6 565.7,394.4 566.3,417.2 566.9,397.1 567.5,409.4 568.1,398.7 568.7,449 569.3,400.2 569.9,418.7 570.5,401.9 571.1,431.2 571.7,402.7 572.3,415.4 572.9,404.9 573.5,423.8 574.1,408.5 574.7,425.1 575.3,410.6 575.9,420.1 576.5,414.8 577.1,446 577.7,418.2 578.3,438.7 578.9,421.7 579.5,430.5 580.1,425.4 580.7,438.8 581.3,428.5 581.9,443.5 582.5,432.2 583.1,440.1 583.7,435.5 584.3,441.6 584.9,441.1 585.5,446 586.1,446.2 586.7,447.1 587.3,450.3 587.9,451.5 588.5,455.1 589.1,456.9 589.7,461.6 590.3,462.5 591.7,461.2 591.5,462.6 589.8,467.4 591.3,466.2 591.6,469.6 593.1,470.3 592,475.6 594,474.4 593.2,477.2 594.7,480.2 595.6,483 595,484.6 596.1,486.7 595.6,488.8 596.7,491.2 595.4,493 595.4,494.6 597.6,495.5 599.1,497.8 597.8,500.6 599.6,501.9 598.5,503.2 599.2,506.3 599.1,506.9 600.4,508.9 600.2,512.4 602.2,513.2 601.4,513.9 601.5,515.7 602.8,519.5 601.8,522.8 602.9,524.4 605,526.8 603.6,526.7 606.3,526.9 604.2,531.1 606.1,534.5 607.4,534.9 608.6,536.7 607.7,539.4 607.9,540 609,541.9 610.6,545.2 609.8,544.8 609.9,547.9 611.2,550.5 612.8,554 612.3,553.8 613.3,557.9 613.2,558 615.2,558.4 614.4,563.6 616.6,563.6 615.1,567.1 617.5,568.7 619.1,570.8 618,569.8 618.5,573.1 620,573.6 619.9,577.2 622,577.9 624.1,580.8 622.1,581.8 625.2,583.2 625.7,583.8 625.4,589 627.3,590 627.3,591 629.5,591.7 630.9,594.5 633,596.3 632.4,596.2 632.7,600.4 633.9,599.3 635.4,602.5 638.7,604.4 640,603.7 639,608 641.3,609.3 642.7,608.6 644,609.6 647.5,612.8 647.4,613.5 649.1,613.2 652.2,616.6 653.9,617.2 654.6,617.6 654.7,621.2 658.9,619.7 660.8,622.7 660.8,622.8 664.5,623.3 666.3,623.3 666.4,626 667.8,625 671.7,626.2 673.4,625.8 673.5,626.9 675.5,629.9 677.7,628.8 679.1,629.3 681.8,629.3 682.9,628.6 687.1,629.7 687.4,629.3 689.5,629.6 690.8,631.6 693.7,629.7 696.8,629.7 697.5,632.8 699.2,629.9 700.2,631.1 701.2,632.7 702.2,632.5 703.2,629.5 704.2,630.3 705.2,631.8 706.2,630.2 707.2,632.6 708.2,629.2 709.2,632.4 710.2,630.4 711.2,629.1 712.2,630 713.2,628.5 714.2,631 715.2,629 716.2,631.7 717.2,630.3 718.2,629.3 719.2,628.7 720.2,630.3 721.2,628.5 722.2,631.4 723.2,628 724.2,629.7 725.2,629.8 726.2,628.6 727.2,630.8 728.2,629.1 729.2,630.3 730.2,629.8 731.2,628.7 732.2,629 733.2,627.7 734.2,628.1 735.2,631 736.2,628.7 737.2,630.2 738.2,627.8 739.2,629.8 740.2,628.9 741.2,629.5 742.2,628.7 743.2,627.7 744.2,628.9 745.2,628.5 746.2,628.2 747.2,630.8 748.2,629 749.2,629.6 750.2,632 751.2,631.5 752.2,632.1 753.2,632.1 754.2,629 755.2,629.8 756.2,628.8 757.2,631.8 758.2,631.9 759.2,630.6 760.2,631.1 761.2,632.3 762.2,632.6 763.2,630.8 764.2,633.6 765.2,631.5 766.2,632.9 767.2,631.1 768.2,630.9 769.2,634.6 770.2,634 771.2,634 772.2,631.2 773.2,631.3 774.2,632 775.2,632.3 776.2,632.9 777.2,633.4 778.2,632 779.2,633.3 780.2,634.9 781.2,633 782.2,636 783.2,634.9 784.2,635.7 785.2,633.8 786.2,634.7 787.2,636 788.2,634.6 789.2,633.3 790.2,637.1 791.2,637 792.2,634.9 793.2,634 794.2,637.7 795.2,636.8 796.2,634.5 797.2,635.5 798.2,635 799.2,638.2 800.2,635.7 801.2,639 802.2,638.4 803.2,635.6 804.2,638.4 805.2,637.2 806.2,638.9 807.2,639.4 808.2,637.1 809.2,636.3 810.2,640.2 811.2,638 812.2,640.4 813.2,639.4 814.2,639.7 815.2,640.2 816.2,639.4 817.2,638.7 818.2,637 819.2,639.9 820.2,638.8 821.2,639.3 822.2,641.2 823.2,637.7 824.2,640.6 825.2,637.5 826.2,640.5 827.2,641 828.2,638.7 829.2,640 830.2,641.9 831.2,640.5 832.2,640.2 833.2,638.9 834.2,638.2 835.2,639.6 836.2,639.9 837.2,639 838.2,639.5 839.2,638.8 840.2,641.4 841.2,641.3 842.2,639.4 843.2,639.5 844.2,640.7 845.2,640.5 846.2,642.7 847.2,640.1 848.2,639.9 849.2,642.5 850.2,639.3 851.2,641.2 852.2,640.2 853.2,642.3 854.2,641.2 855.2,642.1 856.2,639.5 857.2,641.7 858.2,641.4 859.2,640.8 860.2,642.2 861.2,642.5 862.2,639.3 863.2,640.1 864.2,640.4 865.2,639.7 866.2,639.1 867.2,640 868.2,639.7 869.2,641.9 870.2,640.8 871.2,639.3 872.2,640.2 873.2,640.9 874.2,640.4 875.2,639.5 876.2,639.1 877.2,638.8 878.2,643.2 879.2,642.1 880.2,639.2 881.2,642 882.2,643.1 883.2,641.3 884.2,639.3 885.2,641 886.2,640.7 887.2,639.6 888.2,641.2 889.2,638.8 890.2,642.8 891.2,641.6 892.2,641.6 893.2,642.9 894.2,641.7 895.2,639.9 896.2,639.9 897.2,639.4 898.2,638.9 899.2,642.2 900.2,642.5 901.2,640.1 902.2,639.6 903.2,641.6" fill="none" stroke="#ffff00" stroke-width="2" stroke-linejoin="round" marker-start="url(#may)" marker-mid="url(#may)" marker-end="url(#may)"/>
<polyline points="111.8,654.7 112.8,655.1 113.8,651.3 114.8,654.3 115.8,654.5 116.8,654.1 117.8,652 118.8,651.2 119.8,654.4 120.8,651.8 121.8,652 122.8,652.9 123.8,652 124.8,654.2 125.8,651.2 126.8,650.2 127.8,652.8 128.8,653.1 129.8,654 130.8,653.4 131.8,654.3 132.8,654.5 133.8,652.2 134.8,652.2 135.8,650.4 136.8,651.1 137.8,652.4 138.8,649.9 139.8,652.9 140.8,650.2 141.8,651.5 142.8,654.1 143.8,649.7 144.8,649.4 145.8,651.3 146.8,650 147.8,652.6 148.8,649 149.8,653.1 150.8,653.1 151.8,652.8 152.8,650.9 153.8,650.1 154.8,652 155.8,651.2 156.8,650.7 157.8,650.2 158.8,650.7 159.8,651.8 160.8,652.5 161.8,652.8 162.8,649.1 163.8,649.7 164.8,650.4 165.8,650.9 166.8,649.8 167.8,648.9 168.8,648.3 169.8,649.4 170.8,650 171.8,652.5 172.8,652.1 173.8,651.8 174.8,652.3 175.8,652.1 176.8,650.3 177.8,651.1 178.8,647.2 179.8,650.2 180.8,649.7 181.8,648 182.8,649.3 183.8,650.9 184.8,648.3 185.8,648.8 186.8,646.6 187.8,646.4 188.8,648.6 189.8,643.8 190.8,644.1 191.8,645.8 192.8,636 193.8,627 194.8,619.5 195.8,620.5 196.8,630 197.8,639.7 198.8,640.1 199.8,640.2 200.8,639.3 201.8,637.8 202.8,638.1 203.8,641.6 204.8,639.9 205.8,637.7 206.8,641.3 207.8,638.2 208.8,637.3 209.8,639.4 210.8,637.8 211.8,638.9 212.8,639 213.8,637.2 214.8,638.7 215.8,636.2 216.8,638 217.8,638.2 218.8,635.4 219.8,636.8 220.8,635 221.8,636.6 222.8,638.5 223.8,636.8 224.8,637.5 225.8,637.5 226.8,634.2 227.8,638.5 228.8,637.1 229.8,633.9 230.8,637.5 231.8,635.2 232.8,634 233.8,637.9 234.8,635.8 235.8,636.8 236.8,633.6 237.8,636.7 238.8,633.1 239.8,633.9 240.8,634.5 241.8,632.7 242.8,635.5 243.8,633.6 244.8,633.9 245.8,635.9 246.8,634.5 247.8,636.8 248.8,635.4 249.8,636.6 250.8,635 251.8,636.8 252.8,636.5 253.8,633 254.8,635.8 255.8,633.8 256.8,635.9 257.8,635.4 258.8,636.1 259.8,632.6 260.8,633.9 261.8,635.7 262.8,636.7 263.8,635.6 264.8,632.2 265.8,635 266.8,632.4 267.8,634.7 268.8,636 269.8,632.5 270.8,636.5 271.8,635.3 272.8,633.2 273.8,632.9 274.8,634.1 275.8,636.1 276.8,634.8 277.8,632.4 278.8,632 279.8,632.4 280.8,635.9 281.8,632.8 282.8,634.6 283.8,633.3 284.8,635.3 285.8,633.7 286.8,632.6 287.8,636.2 288.8,634.5 289.8,635.3 290.8,635.9 291.8,636.6 292.8,631.9 293.8,633.5 294.8,632.6 295.8,634.3 296.8,636.2 297.8,635.8 298.8,632 299.8,632.7 300.8,635.9 301.8,635.2 302.8,633.7 303.8,634.1 304.8,632.6 305.8,636 306.8,633.7 307.8,636.1 308.8,634.8 309.8,632.1 310.8,633.4 311.8,632.8 312.8,636.2 313.8,634.7 314.8,631.9 315.8,632.6 316.8,633.5 317.8,634.1 318.8,634.6 319.8,633.7 320.8,633.5 321.8,631.7 322.8,634.6 323.8,633.4 324.8,631.8 325.8,634 326.8,636.6 327.8,631.9 328.8,632.4 329.8,635.1 330.8,633.1 331.8,633.1 332.8,634.2 333.8,633 334.8,634.5 335.8,634.3 336.8,636.5 337.8,636.6 338.8,631.8 339.8,634.5 340.8,635.5 341.8,636 342.8,635.5 343.8,634.8 344.8,634.8 345.8,633.5 346.8,633.1 347.8,635.6 348.8,636 349.8,636.3 350.8,635.1 351.8,633.2 352.8,635.5 353.8,635.3 354.8,634.2 355.8,634.8 356.8,633.4 357.8,634.4 358.8,633.7 359.8,631.9 360.8,633.3 361.8,633.2 362.8,636.6 363.8,634 364.8,633.5 365.8,632.8 366.8,632.8 367.8,633.4 368.8,632.3 369.8,631.6 370.8,636 371.8,633.9 372.8,633.8 373.8,634.4 374.8,633.1 375.8,632.4 376.8,631.9 377.8,633.1 378.8,633.1 379.8,635.2 380.8,634.3 381.8,636.3 382.8,633.3 383.8,636.2 384.8,634.5 385.8,632 386.8,632.4 387.8,634.5 388.8,636.5 389.8,633.3 390.8,635.4 391.8,633.7 392.8,635.9 393.8,631.9 394.8,633.9 395.8,636 396.8,632.9 397.8,632.8 398.8,631.6 399.8,632.3 400.8,632.8 401.8,635 402.8,632.6 403.8,633.5 404.8,632.5 405.8,634.5 406.8,635.8 407.8,634.7 408.8,632.4 409.8,635.1 410.8,636.2 411.8,634.4 412.8,631.8 413.8,635.5 414.8,635.8 415.8,633.1 416.8,632.1 417.8,632.3 418.8,634.1 419.8,635.8 420.8,634.6 421.8,636 422.8,632.4 423.8,633 424.8,635.1 425.8,634.6 426.8,633.4 427.8,634.7 428.8,633 429.8,631.6 430.8,633.4 431.8,631.5 432.8,634.4 433.8,633 434.8,633.8 435.8,634.3 436.8,632.6 437.8,633.6 438.8,631.3 439.8,635.9 440.8,634.1 441.8,636.2 442.8,631.5 443.8,634.3 444.8,634.9 445.8,632.9 446.8,631.7 447.8,632 448.8,631.9 449.8,635 450.8,631.6 451.8,635.3 452.8,633.3 453.8,633.9 454.8,634.1 455.8,633.9 456.8,634.4 457.8,634.2 458.8,632.8 459.8,634.8 460.8,632.4 461.8,634.7 462.8,634.9 463.8,635 464.8,632.6 465.8,635 466.8,636 467.8,633.3 468.8,632.5 469.8,633.7 470.8,635.8 471.8,631.7 472.8,631.1 473.8,633.4 474.8,634.3 475.8,634.9 476.8,632.8 477.8,635.9 478.8,632.1 479.8,634.8 480.8,631.4 481.8,631.1 482.8,631.6 483.8,631.2 484.8,633.4 485.8,633.7 486.8,631.8 487.8,635.6 488.8,632.7 489.8,631.6 490.8,631.8 491.8,634.6 492.8,635.5 493.8,631.7 494.8,631 495.8,634.7 496.8,632 497.8,635.7 498.8,633.3 499.8,634 500.8,632.5 501.8,634.8 502.8,633.1 503.8,632.4 504.8,635.2 505.8,631.3 506.8,634.4 507.8,631 508.8,633.9 509.8,632.7 510.8,635 511.8,631 512.8,633.5 513.8,632.7 514.8,635.2 515.8,635.3 516.8,633.7 517.8,631.7 518.8,631.8 519.8,631.9 520.8,632.7 521.8,631.7 522.8,631.5 523.8,634.3 524.8,633.7 525.8,632 526.8,635.4 527.8,631.5 528.8,633.3 529.8,631.2 530.8,634.7 531.8,634.8 532.8,631.7 533.8,634.1 534.8,634.5 535.8,631.8 536.8,632 537.8,632.7 538.8,634.8 539.8,631.1 540.8,633.7 541.8,633.2 542.8,632.5 543.8,633.1 544.8,634.6 545.8,631.3 546.8,634.6 547.8,632 548.8,634.1 549.8,634.5 550.8,631 551.8,634.4 552.8,635.1 553.8,631.6 554.8,630.2 555.8,630.6 556.8,634.9 557.8,630.1 558.8,634.5 559.8,630.7 560.8,633.6 561.8,630.4 562.8,630.8 563.8,633.3 564.8,630.3 565.8,631.5 566.8,634.4 567.8,633.4 568.8,634.2 569.8,634.7 570.8,629.9 571.8,630.9 572.8,633.6 573.8,633.1 574.8,629.8 575.8,632.1 576.8,630.7 577.8,631.7 578.8,630 579.8,629.5 580.8,634.4 581.8,630.9 582.8,633.7 583.8,629.9 584.8,631.7 585.8,629.9 586.8,631.3 587.8,630 588.8,632.5 589.8,629.7 590.8,632.6 591.8,631.4 592.8,629.4 593.8,630.5 594.8,631.2 595.8,633.2 596.8,630.3 597.8,629.6 598.8,633.3 599.8,632.8 600.8,631.9 601.8,629.5 602.8,628.9 603.8,629.2 604.8,628.1 605.8,627.8 606.8,629.9 607.8,629.2 608.8,629.7 609.8,628.6 610.8,626.6 611.8,629.7 612.8,629.3 613.8,628.5 614.8,628.2 615.8,628.7 616.8,629.8 617.8,629 618.8,627.9 619.8,626 620.8,625.3 621.8,625.5 622.8,627.9 623.8,624.7 624.8,624.3 625.8,624.1 626.8,622.4 627.8,626.4 628.8,621.1 629.8,623.7 630.8,625 631.8,621.3 632.8,622.7 633.8,621.2 634.8,620.1 635.8,619.5 636.8,618.7 637.8,621.9 638.8,621.2 639.8,621.4 640.8,616.6 641.8,619.4 642.8,617 643.8,618.1 644.8,617.1 645.8,615.4 646.8,618.2 647.8,612.8 648.8,616 649.8,615.9 650.8,613.7 651.8,613.5 652.8,614.9 653.8,610.5 654.8,611.9 655.8,611.9 656.8,609.4 657.8,610.5 658.8,608.3 659.8,608.3 660.8,608.1 661.8,607.8 662.8,605.5 663.8,606.4 664.8,605.3 665.8,603.1 666.8,604.4 667.8,602.1 668.8,604.7 669.8,601.9 670.8,602.4 671.8,600.7 672.8,599.8 673.8,597.8 674.8,596.7 675.8,599.8 676.8,597.1 677.8,596.3 678.8,595.5 679.8,596.1 680.8,592.4 681.8,591.3 682.8,593.8 683.8,591.2 684.8,591.3 685.8,591.4 686.8,591 687.8,590.1 688.8,585.2 689.8,586.2 690.8,587.7 691.8,586.9 692.8,582.8 693.8,582.3 694.8,582.1 695.8,580.8 696.8,581.5 697.8,583.2 698.8,581.3 699.8,580.4 700.8,578.2 701.8,579.3 702.8,581.8 703.8,579.9 704.8,578.2 705.8,577.9 706.8,579 707.8,578.4 708.8,574.9 709.8,577.1 710.8,575.2 711.8,575.6 712.8,573.8 713.8,574.1 714.8,573.6 715.8,573.5 716.8,571.4 717.8,572.1 718.8,573.8 719.8,571 720.8,571.5 721.8,574.1 722.8,571.9 723.8,572.1 724.8,571.8 725.8,574.8 726.8,571.2 727.8,574 728.8,575.3 729.8,572.2 730.8,573.5 731.8,575.5 732.8,574.9 733.8,573.9 734.8,572.5 735.8,574.8 736.8,574.7 737.8,576.8 738.8,575 739.8,575.9 740.8,577.5 741.8,578.6 742.8,576.7 743.8,577.2 744.8,578.5 745.8,580.6 746.8,577.3 747.8,581.6 748.8,580.8 749.8,579.6 750.8,581.6 751.8,580.6 752.8,579.9 753.8,584 754.8,582.8 755.8,584.2 756.8,584.8 757.8,587.6 758.8,587.7 759.8,584.8 760.8,588.4 761.8,588.6 762.8,589.4 763.8,592 764.8,590.7 765.8,591.8 766.8,594.6 767.8,593.1 768.8,594.1 769.8,594.9 770.8,597.2 771.8,597 772.8,598 773.8,596.9 774.8,595.6 775.8,599.4 776.8,599.3 777.8,600.9 778.8,601.4 779.8,598.6 780.8,599.6 781.8,599.3 782.8,603.5 783.8,600.4 784.8,600.8 785.8,604.6 786.8,604.1 787.8,602 788.8,605.5 789.8,606.1 790.8,605.4 791.8,603.8 792.8,607.4 793.8,606.5 794.8,607.8 795.8,610.3 796.8,609.9 797.8,610.7 798.8,607.5 799.8,609 800.8,610.4 801.8,608.4 802.8,613.8 803.8,610.8 804.8,611.3 805.8,612.1 806.8,612.4 807.8,616 808.8,615 809.8,615.3 810.8,615.4 811.8,614.2 812.8,616 813.8,619.3 814.8,619.5 815.8,620.3 816.8,617.8 817.8,618.1 818.8,617.8 819.8,620.7 820.8,620.3 821.8,621.2 822.8,621.8 823.8,622.7 824.8,622 825.8,624.6 826.8,622 827.8,626 828.8,624.5 829.8,622.4 830.8,624.1 831.8,625.6 832.8,625.4 833.8,626.5 834.8,625.6 835.8,625.7 836.8,628.7 837.8,626.5 838.8,628.8 839.8,629.6 840.8,628.8 841.8,628.3 842.8,630.9 843.8,628.7 844.8,631 845.8,627 846.8,629.1 847.8,630.2 848.8,627.4 849.8,631.6 850.8,627.8 851.8,630.5 852.8,628.6 853.8,632.4 854.8,630.7 855.8,632 856.8,630.6 857.8,631.5 858.8,631.6 859.8,629.8 860.8,629.5 861.8,632.7 862.8,629.3 863.8,633.3 864.8,629.8 865.8,629.3 866.8,629.4 867.8,632.9 868.8,633.8 869.8,631.2 870.8,632.5 871.8,630.6 872.8,633.9 873.8,632.9 874.8,630.4 875.8,630 876.8,633.2 877.8,630.1 878.8,634.1 879.8,631.5 880.8,631.3 881.8,633.2 882.8,632 883.8,633.3 884.8,631.3 885.8,635.2 886.8,632.4 887.8,635.1 888.8,631.7 889.8,635.1 890.8,636.1 891.8,633.3 892.8,631.6 893.8,633.4 894.8,634.8 895.8,632.8 896.8,634.6 897.8,632.4 898.8,634.4 899.8,635.8 900.8,634.4 901.8,635.7 902.8,633" fill="none" stroke="#ff00ff" stroke-width="2" stroke-linejoin="round" marker-start="url(#mam)" marker-mid="url(#mam)" marker-end="url(#mam)"/>
<polyline points="111.8,674.2 112.8,663.6 113.8,675.5 114.8,676.5 115.8,675.6 116.8,669.4 117.8,665.8 118.8,666.6 119.8,672.5 120.8,668.6 121.8,675.1 122.8,662.4 123.8,668.3 124.8,673.9 125.8,669.8 126.8,668.9 127.8,662 128.8,662.7 129.8,664.6 130.8,673.8 131.8,673.1 132.8,663.7 133.8,674.1 134.8,660.6 135.8,669 136.8,674.5 137.8,665.1 138.8,674 139.8,669.6 140.8,660.4 141.8,664.6 142.8,666.2 143.8,663.1 144.8,670.4 145.8,661.9 146.8,670.9 147.8,663.5 148.8,660 149.8,667.3 150.8,660.2 151.8,667 152.8,670.4 153.8,667.5 154.8,665.4 155.8,658.9 156.8,666 157.8,659.7 158.8,667.9 159.8,660.1 160.8,666.7 161.8,663.3 162.8,663.5 163.8,667.8 164.8,660.2 165.8,660.2 166.8,671.7 167.8,662.4 168.8,670 169.8,670.4 170.8,664.4 171.8,659.3 172.8,658.3 173.8,670 174.8,658.4 175.8,664 176.8,664.4 177.8,658 178.8,663.1 179.8,658.4 180.8,663.8 181.8,663.2 182.8,660.9 183.8,658 184.8,660.7 185.8,657.3 186.8,655.7 187.8,656.8 188.8,665.7 189.8,659.4 190.8,664.4 191.8,650.4 192.8,663.4 193.8,655.7 194.8,659.3 195.8,655.1 196.8,655.9 197.8,648 198.8,655 199.8,645.3 200.8,646.3 201.8,642.2 202.8,647.1 203.8,648.4 204.8,645.5 205.8,651.2 206.8,642.4 207.8,647.1 208.8,643.1 209.8,646.4 210.8,648 211.8,646.8 212.8,639.6 213.8,641.1 214.8,644.4 215.8,647.9 216.8,637.7 217.8,643.3 218.8,643.7 219.8,644.6 220.8,639.3 221.8,643.9 222.8,639.9 223.8,644.3 224.8,634.6 225.8,644 226.8,638.2 227.8,638 228.8,634.4 229.8,635.9 230.8,640.8 231.8,640.1 232.8,634.5 233.8,636.4 234.8,634.2 235.8,634.6 236.8,634.7 237.8,635.8 238.8,642.4 239.8,642.5 240.8,640.3 241.8,636.9 242.8,637 243.8,639.8 244.8,641.1 245.8,639.4 246.8,638.1 247.8,633.5 248.8,637.8 249.8,640.1 250.8,639.4 251.8,632.1 252.8,638.5 253.8,634.7 254.8,632.7 255.8,641 256.8,637.9 257.8,638.6 258.8,632.2 259.8,639.4 260.8,640.5 261.8,640.2 262.8,638.5 263.8,639.4 264.8,639 265.8,636.8 266.8,635.2 267.8,639.2 268.8,638.8 269.8,639.7 270.8,633.7 271.8,640.5 272.8,636.1 273.8,640.4 274.8,631.7 275.8,640.6 276.8,638.7 277.8,633.1 278.8,639.1 279.8,632.8 280.8,632.5 281.8,635.1 282.8,632.8 283.8,635.5 284.8,639.8 285.8,637.4 286.8,637.7 287.8,634.4 288.8,638.4 289.8,638.5 290.8,637.3 291.8,640 292.8,638.8 293.8,634.4 294.8,631.1 295.8,637 296.8,638.9 297.8,633.7 298.8,636.3 299.8,638.8 300.8,638.4 301.8,630.1 302.8,635.2 303.8,630.2 304.8,631.2 305.8,638.5 306.8,634.4 307.8,636.3 308.8,634.8 309.8,633.5 310.8,632.2 311.8,633.7 312.8,638.8 313.8,636.4 314.8,633 315.8,630.9 316.8,632.8 317.8,637.2 318.8,634.5 319.8,636.8 320.8,638.3 321.8,631.1 322.8,637 323.8,630.3 324.8,638.4 325.8,631.8 326.8,632.7 327.8,639.8 328.8,633.6 329.8,632.2 330.8,639.1 331.8,636.2 332.8,639.1 333.8,633.9 334.8,635 335.8,639.7 336.8,635 337.8,640 338.8,631.7 339.8,638.4 340.8,631.4 341.8,635.2 342.8,629.7 343.8,631.5 344.8,639.5 345.8,634.4 346.8,638.1 347.8,632.3 348.8,633.3 349.8,630.7 350.8,635.4 351.8,638.6 352.8,635 353.8,633.6 354.8,639.3 355.8,638.9 356.8,636.6 357.8,630.4 358.8,636.1 359.8,634.2 360.8,639.6 361.8,633.4 362.8,636.5 363.8,636.2 364.8,633.5 365.8,635 366.8,636.6 367.8,639 368.8,634.7 369.8,633.3 370.8,639.7 371.8,630.1 372.8,638.2 373.8,636.6 374.8,635.3 375.8,634.2 376.8,637.3 377.8,638.7 378.8,637.1 379.8,637.3 380.8,629.8 381.8,632.8 382.8,630.9 383.8,639.3 384.8,638.7 385.8,630.9 386.8,635.5 387.8,635.4 388.8,629.9 389.8,633.5 390.8,637.1 391.8,636 392.8,632.3 393.8,637.3 394.8,632.4 395.8,635 396.8,633.7 397.8,639.5 398.8,636 399.8,637.7 400.8,636.3 401.8,633.2 402.8,639.3 403.8,636.6 404.8,636.4 405.8,632.1 406.8,630.9 407.8,635.2 408.8,637.8 409.8,637.4 410.8,632.8 411.8,630.6 412.8,634.5 413.8,638.3 414.8,630.8 415.8,636.8 416.8,630.9 417.8,632.4 418.8,629.7 419.8,632.2 420.8,633.1 421.8,639.1 422.8,639.1 423.8,631 424.8,632.3 425.8,638.8 426.8,631.1 427.8,632.4 428.8,633.6 429.8,630.1 430.8,631.7 431.8,633.1 432.8,633 433.8,639 434.8,631.7 435.8,631.1 436.8,638.4 437.8,633.6 438.8,637.6 439.8,635.5 440.8,637 441.8,632.2 442.8,630.5 443.8,636.7 444.8,633.8 445.8,634.7 446.8,635.8 447.8,636.7 448.8,631.7 449.8,632.6 450.8,638.4 451.8,634.3 452.8,631.8 453.8,635.3 454.8,631.5 455.8,636.8 456.8,629.2 457.8,637.3 458.8,634.6 459.8,632.4 460.8,638.5 461.8,631.5 462.8,631.2 463.8,629.4 464.8,634.4 465.8,636.5 466.8,635.7 467.8,633 468.8,637.1 469.8,629.8 470.8,631.8 471.8,635.3 472.8,638.7 473.8,635.2 474.8,635.8 475.8,636.6 476.8,632.7 477.8,638.4 478.8,636.3 479.8,632.1 480.8,632.6 481.8,636.9 482.8,632.2 483.8,630.5 484.8,637.6 485.8,634 486.8,633.9 487.8,635.4 488.8,637.9 489.8,629.9 490.8,632 491.8,629.1 492.8,632.7 493.8,633.7 494.8,637.3 495.8,635.4 496.8,634.4 497.8,632.6 498.8,634.4 499.8,631.2 500.8,637.2 501.8,636.6 502.8,637.1 503.8,629.9 504.8,635.3 505.8,636.2 506.8,633.5 507.8,637.6 508.8,637.6 509.8,636 510.8,636.8 511.8,635 512.8,637.4 513.8,629.6 514.8,635.6 515.8,635.5 516.8,634.6 517.8,631.1 518.8,628.9 519.8,634.5 520.8,636.8 521.8,631 522.8,630.4 523.8,630.5 524.8,629.1 525.8,635.2 526.8,638.3 527.8,636.5 528.8,631.8 529.8,635.4 530.8,628.8 531.8,636.8 532.8,631.4 533.8,628.1 534.8,634.6 535.8,629.5 536.8,630.9 537.8,628.6 538.8,632.6 539.8,633.8 540.8,636.4 541.8,628.4 542.8,636.6 543.8,629.1 544.8,630.3 545.8,634.5 546.8,631.5 547.8,631.4 548.8,633.8 549.8,630.2 550.8,636.1 551.8,630 552.8,636.6 553.8,636.3 554.8,633.4 555.8,628.1 556.8,635.9 557.8,628.1 558.8,633 559.8,632.2 560.8,628.4 561.8,634.3 562.8,635.3 563.8,633.8 564.8,631.9 565.8,633.1 566.8,633.8 567.8,630.1 568.8,636.7 569.8,638 570.8,636 571.8,637.7 572.8,631.1 573.8,637.9 574.8,628.4 575.8,632.6 576.8,629 577.8,632.3 578.8,634.7 579.8,635 580.8,632.3 581.8,631.1 582.8,629.5 583.8,631.7 584.8,630.5 585.8,629.5 586.8,635.2 587.8,632.9 588.8,632 589.8,629.5 590.8,634.8 591.8,629.5 592.8,630.2 593.8,633.2 594.8,634.7 595.8,637.5 596.8,635.1 597.8,637.2 598.8,636.9 599.8,634.8 600.8,634.7 601.8,627.8 602.8,629.2 603.8,627.1 604.8,635.9 605.8,634.3 606.8,633.2 607.8,629.3 608.8,630.1 609.8,628 610.8,632.7 611.8,636.3 612.8,629 613.8,626.1 614.8,627.3 615.8,629 616.8,634.5 617.8,633.3 618.8,629.5 619.8,625.7 620.8,625.5 621.8,625.8 622.8,632.1 623.8,628.8 624.8,634 625.8,633 626.8,631.6 627.8,628.1 628.8,631.5 629.8,624.2 630.8,623.8 631.8,628.4 632.8,627.6 633.8,624.4 634.8,624.7 635.8,622.2 636.8,631.2 637.8,629 638.8,631.4 639.8,631.6 640.8,625.8 641.8,628.7 642.8,625 643.8,629.3 644.8,629.5 645.8,622 646.8,620.6 647.8,622.5 648.8,626.3 649.8,624 650.8,620 651.8,628.4 652.8,627.8 653.8,624.3 654.8,619.8 655.8,628.5 656.8,624.6 657.8,619.7 658.8,622.1 659.8,625.1 660.8,627.7 661.8,623.4 662.8,624.8 663.8,620.2 664.8,620.4 665.8,627.1 666.8,621.5 667.8,618.4 668.8,623.3 669.8,618.3 670.8,618.9 671.8,621.4 672.8,622.6 673.8,622.9 674.8,623.5 675.8,620.5 676.8,616.5 677.8,623.1 678.8,615.9 679.8,620.1 680.8,619.1 681.8,621.8 682.8,622 683.8,616.9 684.8,620.9 685.8,621.1 686.8,618.6 687.8,615 688.8,622.8 689.8,619.3 690.8,613.5 691.8,615.1 692.8,622.7 693.8,614.6 694.8,616 695.8,619.9 696.8,620.1 697.8,617.8 698.8,618.7 699.8,611.2 700.8,611.5 701.8,620.4 702.8,618.4 703.8,610.2 704.8,610 705.8,611.7 706.8,618.6 707.8,610.9 708.8,615.3 709.8,617.6 710.8,614.2 711.8,616.8 712.8,609.6 713.8,608.1 714.8,606.3 715.8,613.6 716.8,606.5 717.8,615.2 718.8,612.1 719.8,606.3 720.8,612.5 721.8,605.4 722.8,608.8 723.8,604.3 724.8,611.1 725.8,612 726.8,612.1 727.8,602.4 728.8,611.1 729.8,607.9 730.8,610.5 731.8,607 732.8,608.1 733.8,607.7 734.8,609.7 735.8,602.1 736.8,601.7 737.8,606.7 738.8,603.9 739.8,604.9 740.8,600.8 741.8,608.4 742.8,600.8 743.8,609.1 744.8,608.9 745.8,605.1 746.8,601.6 747.8,607.1 748.8,602.5 749.8,604.8 750.8,601.5 751.8,610.5 752.8,606.1 753.8,604.2 754.8,601.6 755.8,608.3 756.8,609.7 757.8,609.8 758.8,602.2 759.8,605.1 760.8,604.6 761.8,609.6 762.8,603.4 763.8,608.4 764.8,612.4 765.8,610.5 766.8,602.8 767.8,603.7 768.8,604.3 769.8,610.6 770.8,609.8 771.8,609.2 772.8,608.8 773.8,608.5 774.8,610.8 775.8,611.5 776.8,614.5 777.8,612.9 778.8,613.8 779.8,615.3 780.8,614.8 781.8,613.9 782.8,607.1 783.8,614.2 784.8,616.3 785.8,612.3 786.8,617.4 787.8,610.5 788.8,618.8 789.8,614 790.8,617.1 791.8,612.8 792.8,613.7 793.8,614.6 794.8,614.7 795.8,612.7 796.8,616.8 797.8,622.8 798.8,619.8 799.8,623.1 800.8,621.7 801.8,622.8 802.8,624.9 803.8,622.7 804.8,618.1 805.8,618.2 806.8,620.3 807.8,616.6 808.8,619.1 809.8,626.2 810.8,626.9 811.8,621.1 812.8,626 813.8,626.4 814.8,627.9 815.8,627.3 816.8,624.9 817.8,620.8 818.8,628.7 819.8,623.7 820.8,627.3 821.8,625 822.8,627.1 823.8,631.9 824.8,623.9 825.8,628 826.8,629.6 827.8,628.8 828.8,633.3 829.8,628.1 830.8,633.6 831.8,631.6 832.8,634.8 833.8,625.9 834.8,627.5 835.8,628.5 836.8,635.2 837.8,626.2 838.8,629 839.8,633.9 840.8,637 841.8,628.7 842.8,631.6 843.8,634.4 844.8,634.6 845.8,635.3 846.8,635.5 847.8,630.4 848.8,630.6 849.8,628.4 850.8,635.4 851.8,630.5 852.8,631.1 853.8,638.6 854.8,635.3 855.8,634.9 856.8,635.7 857.8,635.2 858.8,636.3 859.8,632.3 860.8,629.9 861.8,630 862.8,629.6 863.8,633.3 864.8,631.1 865.8,630.8 866.8,634.9 867.8,639.9 868.8,637.1 869.8,632.8 870.8,638.1 871.8,632 872.8,631.3 873.8,633.5 874.8,634.7 875.8,637.7 876.8,635.2 877.8,638.2 878.8,631.8 879.8,640.6 880.8,634.5 881.8,639.7 882.8,631.4 883.8,639.8 884.8,633.6 885.8,640.3 886.8,639.8 887.8,638.5 888.8,634.5 889.8,631.8 890.8,633.8 891.8,641.3 892.8,633.6 893.8,638.9 894.8,638.2 895.8,639.1 896.8,634.2 897.8,633.9 898.8,633.5 899.8,642.8 900.8,636.6 901.8,639.5 902.8,638.7" fill="none" stroke="#00ffff" stroke-width="2" stroke-linejoin="round" marker-start="url(#mac)" marker-mid="url(#mac)" marker-end="url(#mac)"/>
</g>
<g font-family='"Liberation Sans", Arial, Helvetica, sans-serif' font-size="28.6" letter-spacing="-0.8" fill="#000" stroke="#fff" stroke-width="0.25">
<g text-anchor="middle" letter-spacing="-1.7">
<text x="112.2" y="785">0</text>
<text x="209.3" y="785">100</text>
<text x="308.9" y="785">200</text>
<text x="405.9" y="785">300</text>
<text x="503.1" y="785">400</text>
<text x="604.6" y="785">500</text>
<text x="701.6" y="785">600</text>
<text x="799" y="785">700</text>
<text x="896.1" y="785">800</text>
<text x="997.9" y="785">900</text>
</g><g text-anchor="end">
<text x="102.7" y="64.4">2.5</text>
<text x="102.7" y="180.7">2</text>
<text x="102.7" y="296.1">1.5</text>
<text x="102.7" y="412.6">1</text>
<text x="102.7" y="529.2">0.5</text>
<text x="102.7" y="646.4">0</text>
<text x="102.7" y="762.6">-0.5</text>
</g>
<rect x="808.4" y="67.8" width="180.6" height="201" fill="#fff" stroke="#000" stroke-width="2.1"/>
<path d="M824 90.5H905" stroke="#0000ff" stroke-width="2" fill="none"/>
<use href="#sab" x="868.6" y="92.3" stroke="none"/>
<text x="914.3" y="101.5" letter-spacing="-1.2">1Hz</text>
<path d="M824 130H905" stroke="#ff0000" stroke-width="2" fill="none"/>
<use href="#sar" x="868.6" y="131.8" stroke="none"/>
<text x="914.3" y="141" letter-spacing="-1.2">5Hz</text>
<path d="M824 169.3H905" stroke="#ffff00" stroke-width="2" fill="none"/>
<use href="#say" x="868.6" y="171.1" stroke="none"/>
<text x="914.3" y="180.3" letter-spacing="-1.2">10Hz</text>
<path d="M824 206.8H905" stroke="#ff00ff" stroke-width="2" fill="none"/>
<use href="#sam" x="868.6" y="208.6" stroke="none"/>
<text x="914.3" y="217.8" letter-spacing="-1.2">15Hz</text>
<path d="M824 244H905" stroke="#00ffff" stroke-width="2" fill="none"/>
<use href="#sac" x="868.6" y="245.8" stroke="none"/>
<text x="914.3" y="255" letter-spacing="-1.2">20Hz</text>
</g>
</g>
<g id="b">
<g stroke="#000" stroke-width="2.1" fill="none" stroke-dasharray="6.3 6.13">
<path d="M216.8 863.3V1561.7" stroke-dashoffset="5.2"/>
<path d="M314 863.3V1561.7" stroke-dashoffset="5.2"/>
<path d="M411.2 863.3V1561.7" stroke-dashoffset="5.2"/>
<path d="M508.8 863.3V1561.7" stroke-dashoffset="5.2"/>
<path d="M607.8 863.3V1561.7" stroke-dashoffset="5.2"/>
<path d="M705 863.3V1561.7" stroke-dashoffset="5.2"/>
<path d="M802.5 863.3V1561.7" stroke-dashoffset="5.2"/>
<path d="M899.8 863.3V1561.7" stroke-dashoffset="5.2"/>
<path d="M120 979.3H999.3" stroke-dashoffset="1.6"/>
<path d="M120 1096.9H999.3" stroke-dashoffset="1.6"/>
<path d="M120 1213.5H999.3" stroke-dashoffset="1.6"/>
<path d="M120 1330.1H999.3" stroke-dashoffset="1.6"/>
<path d="M120 1446.3H999.3" stroke-dashoffset="1.6"/>
</g>
<g stroke="#000" stroke-width="2.1" fill="none">
<rect x="120" y="863.3" width="879.3" height="698.4"/>
<path d="M216.8 1561.7v-11.4M216.8 863.3v9.7M314 1561.7v-11.4M314 863.3v9.7M411.2 1561.7v-11.4M411.2 863.3v9.7M508.8 1561.7v-11.4M508.8 863.3v9.7M607.8 1561.7v-11.4M607.8 863.3v9.7M705 1561.7v-11.4M705 863.3v9.7M802.5 1561.7v-11.4M802.5 863.3v9.7M899.8 1561.7v-11.4M899.8 863.3v9.7M120 979.3h9.7M999.3 979.3h-11.4M120 1096.9h9.7M999.3 1096.9h-11.4M120 1213.5h9.7M999.3 1213.5h-11.4M120 1330.1h9.7M999.3 1330.1h-11.4M120 1446.3h9.7M999.3 1446.3h-11.4"/>
</g>
<clipPath id="clipb"><rect x="116" y="863.3" width="887.3" height="698.4"/></clipPath>
<g clip-path="url(#clipb)">
<path d="M230.3 1444L231.3 1200L231.6 850L242.2 850L243.7 1100L244.8 1300L245.2 1444" fill="none" stroke="#0000ff" stroke-width="2.1"/>
<use href="#sbb" x="233.6" y="871.4"/>
<use href="#sbb" x="233.6" y="951.0"/>
<use href="#sbb" x="233.6" y="1082.9"/>
<use href="#sbb" x="233.6" y="1189.5"/>
<use href="#sbb" x="233.6" y="1224.2"/>
<use href="#sbb" x="233.6" y="1242.5"/>
<use href="#sbb" x="233.6" y="1287.4"/>
<use href="#sbb" x="233.6" y="1314.2"/>
<use href="#sbb" x="233.6" y="1330.6"/>
<use href="#sbb" x="233.6" y="1348.6"/>
<use href="#sbb" x="233.6" y="1374.6"/>
<use href="#sbb" x="233.6" y="1382.3"/>
<use href="#sbb" x="233.6" y="1393.3"/>
<use href="#sbb" x="233.6" y="1401.6"/>
<use href="#sbb" x="233.6" y="1409.3"/>
<use href="#sbb" x="233.6" y="1428.6"/>
<use href="#sbb" x="231.8" y="1436.3"/>
<use href="#sbb" x="243.8" y="942.0"/>
<use href="#sbb" x="243.8" y="1022.3"/>
<use href="#sbb" x="243.8" y="1066.7"/>
<use href="#sbb" x="245.8" y="1109.5"/>
<use href="#sbb" x="245.8" y="1180.8"/>
<use href="#sbb" x="245.8" y="1242.5"/>
<use href="#sbb" x="245.8" y="1321.6"/>
<use href="#sbb" x="245.8" y="1366.9"/>
<use href="#sbb" x="245.8" y="1401.6"/>
<use href="#sbb" x="245.8" y="1419.9"/>
<use href="#sbb" x="245.8" y="1428.6"/>
<use href="#sbb" x="245.8" y="1436.3"/>
<polyline points="370,1444.9 372.2,1444.7 374.4,1444.5 376.6,1444.3 378.8,1444.1 381,1443.9 382.6,1442.7 383.7,1440.8 384.4,1438.7 384.9,1436.5 385.3,1434.4 385.9,1432.3 386.4,1430.1 387,1428 387.4,1425.8 387.9,1423.7 388.4,1421.5 388.8,1419.4 389.3,1417.2 389.7,1415.1 390.2,1412.9 390.6,1410.8 390.9,1408.6 391.3,1406.4 391.6,1404.2 392,1402.1 392.3,1399.9 392.5,1397.7 392.8,1395.5 393,1393.3 393.3,1391.1 393.5,1389 393.7,1386.8 393.9,1384.6 394.1,1382.4 394.2,1380.2 394.4,1378 394.6,1375.8 394.7,1373.6 394.9,1371.4 395.1,1369.2 395.2,1367 395.4,1364.8 395.5,1362.6 395.7,1360.4 395.8,1358.2 395.9,1356 396.1,1353.9 396.2,1351.7 396.3,1349.5 396.4,1347.3 396.6,1345.1 396.7,1342.9 396.8,1340.7 396.9,1338.5 397.1,1336.3 397.2,1334.1 397.3,1331.9 397.4,1329.7 397.6,1327.5 397.7,1325.3 397.8,1323.1 397.9,1320.9 398,1318.7 398.2,1316.5 398.3,1314.3 398.4,1312.1 398.5,1309.9 398.6,1307.7 398.7,1305.5 398.9,1303.3 399,1301.1 399.1,1298.9 399.2,1296.7 399.3,1294.5 399.4,1292.3 399.6,1290.1 399.7,1287.9 399.8,1285.7 399.9,1283.6 400,1281.4 400.1,1279.2 400.2,1277 400.3,1274.8 400.5,1272.6 400.6,1270.4 400.7,1268.2 400.8,1266 400.9,1263.8 401,1261.6 401.1,1259.4 401.2,1257.2 401.3,1255 401.5,1252.8 401.6,1250.6 401.7,1248.4 401.8,1246.2 401.9,1244 402,1241.8 402.1,1239.6 402.2,1237.4 402.3,1235.2 402.4,1233 402.6,1230.8 402.7,1228.6 402.8,1226.4 402.9,1224.2 403,1222 403.1,1219.8 403.2,1217.6 403.3,1215.4 403.4,1213.2 403.6,1211 403.7,1208.8 403.8,1206.6 403.9,1204.4 404,1202.2 404.1,1200 404.2,1197.9 404.3,1195.7 404.4,1193.5 404.5,1191.3 404.7,1189.1 404.8,1186.9 404.9,1184.7 405,1182.5 405.1,1180.3 405.2,1178.1 405.3,1175.9 405.4,1173.7 405.5,1171.5 405.6,1169.3 405.7,1167.1 405.9,1164.9 406,1162.7 406.1,1160.5 406.2,1158.3 406.3,1156.1 406.4,1153.9 406.5,1151.7 406.6,1149.5 406.7,1147.3 406.9,1145.1 407,1142.9 407.1,1140.7 407.2,1138.5 407.3,1136.3 407.4,1134.1 407.5,1131.9 407.6,1129.7 407.8,1127.5 407.9,1125.3 408,1123.1 408.1,1120.9 408.2,1118.7 408.3,1116.5 408.4,1114.3 408.5,1112.2 408.7,1110 408.8,1107.8 408.9,1105.6 409,1103.4 409.1,1101.2 409.2,1099 409.3,1096.8 409.5,1094.6 409.6,1092.4 409.7,1090.2 409.8,1088 409.9,1085.8 410,1083.6 410.1,1081.4 410.2,1079.2 410.3,1077 410.4,1074.8 410.6,1072.6 410.7,1070.4 410.8,1068.2 410.9,1066 411,1063.8 411.1,1061.6 411.2,1059.4 411.3,1057.2 411.5,1055 411.6,1052.8 411.7,1050.6 411.8,1048.4 412,1046.2 412.1,1044 412.2,1041.8 412.3,1039.6 412.4,1037.4 412.5,1035.2 412.7,1033.1 412.8,1030.9 412.9,1028.7 413.1,1026.5 413.2,1024.3 413.4,1022.1 413.5,1019.9 413.7,1017.7 413.9,1015.5 414.1,1013.3 414.3,1011.1 414.6,1008.9 414.9,1006.8 415.2,1004.6 415.6,1002.4 415.9,1000.2 416.2,999.9 416.5,1002.1 416.7,1004.3 417,1006.5 417.2,1008.7 417.4,1010.9 417.6,1013.1 417.8,1015.3 417.9,1017.4 418.1,1019.6 418.2,1021.8 418.4,1024 418.5,1026.2 418.6,1028.4 418.7,1030.6 418.8,1032.8 418.9,1035 419,1037.2 419.1,1039.4 419.2,1041.6 419.3,1043.8 419.5,1046 419.6,1048.2 419.7,1050.4 419.8,1052.6 419.9,1054.8 420,1057 420.1,1059.2 420.2,1061.4 420.3,1063.6 420.4,1065.8 420.5,1068 420.6,1070.2 420.7,1072.4 420.8,1074.6 420.9,1076.8 421,1079 421.1,1081.2 421.2,1083.4 421.3,1085.6 421.4,1087.8 421.5,1090 421.6,1092.2 421.7,1094.4 421.8,1096.6 421.9,1098.8 422,1101 422.1,1103.2 422.2,1105.4 422.3,1107.6 422.4,1109.7 422.5,1111.9 422.6,1114.1 422.7,1116.3 422.8,1118.5 422.9,1120.7 423,1122.9 423.1,1125.1 423.2,1127.3 423.3,1129.5 423.4,1131.7 423.5,1133.9 423.6,1136.1 423.7,1138.3 423.8,1140.5 423.9,1142.7 424,1144.9 424,1147.1 424.1,1149.3 424.2,1151.5 424.3,1153.7 424.4,1155.9 424.5,1158.1 424.6,1160.3 424.6,1162.5 424.7,1164.7 424.8,1166.9 424.9,1169.1 425,1171.3 425,1173.5 425.1,1175.7 425.2,1177.9 425.3,1180.1 425.4,1182.3 425.5,1184.5 425.5,1186.7 425.6,1188.9 425.7,1191.1 425.8,1193.3 425.9,1195.5 426,1197.7 426.1,1199.9 426.2,1202.1 426.3,1204.3 426.4,1206.5 426.4,1208.7 426.5,1210.9 426.6,1213.1 426.7,1215.3 426.8,1217.5 426.9,1219.7 427,1221.9 427.1,1224.1 427.2,1226.3 427.3,1228.5 427.4,1230.7 427.5,1232.9 427.5,1235.1 427.6,1237.3 427.7,1239.5 427.8,1241.7 427.9,1243.8 428,1246 428,1248.2 428.1,1250.4 428.2,1252.6 428.3,1254.8 428.3,1257 428.4,1259.2 428.5,1261.4 428.6,1263.6 428.7,1265.8 428.7,1268 428.8,1270.2 428.9,1272.4 429,1274.6 429,1276.8 429.1,1279 429.2,1281.2 429.3,1283.4 429.4,1285.6 429.4,1287.8 429.5,1290 429.6,1292.2 429.7,1294.4 429.8,1296.6 429.8,1298.8 429.9,1301 430,1303.2 430.1,1305.4 430.2,1307.6 430.3,1309.8 430.4,1312 430.4,1314.2 430.5,1316.4 430.6,1318.6 430.7,1320.8 430.8,1323 430.9,1325.2 431,1327.4 431.1,1329.6 431.2,1331.8 431.3,1334 431.4,1336.2 431.5,1338.4 431.6,1340.6 431.7,1342.8 431.8,1345 431.9,1347.2 432,1349.4 432.1,1351.6 432.2,1353.8 432.3,1356 432.5,1358.2 432.6,1360.4 432.7,1362.6 432.8,1364.8 433,1367 433.1,1369.1 433.3,1371.3 433.5,1373.5 433.7,1375.7 433.9,1377.9 434.1,1380.1 434.3,1382.3 434.5,1384.5 434.8,1386.7 435,1388.9 435.2,1391 435.5,1393.2 435.7,1395.4 435.9,1397.6 436.1,1399.8 436.3,1402 436.5,1404.2 436.7,1406.4 436.9,1408.6 437.1,1410.8 437.3,1412.9 437.6,1415.1 437.8,1417.3 438,1419.5 438.3,1421.7 438.6,1423.9 438.8,1426.1 439.1,1428.2 439.5,1430.4 439.9,1432.6 440.4,1434.7 441,1436.8 441.8,1438.9 442.6,1440.9 443.5,1442.9 444.5,1444.9" fill="none" stroke="#ff0000" stroke-width="2" stroke-linejoin="round" marker-start="url(#mbr)" marker-mid="url(#mbr)" marker-end="url(#mbr)"/>
<polyline points="495.9,1444.9 498.1,1444.9 500.3,1444.9 502.5,1444.9 504.7,1444.9 507,1444.9 509.2,1444.9 511.4,1444.9 513.6,1444.9 515.8,1444.9 518,1444.9 520.2,1444.9 522.4,1444.6 524.5,1444 526.5,1443.1 528.5,1442.1 530.2,1440.8 531.9,1439.3 533.4,1437.7 534.8,1436 536,1434.1 537,1432.2 538,1430.2 539,1428.2 539.9,1426.2 540.8,1424.2 541.6,1422.2 542.4,1420.1 543.2,1418 543.9,1415.9 544.6,1413.9 545.3,1411.8 545.9,1409.6 546.6,1407.5 547.2,1405.4 547.8,1403.3 548.4,1401.2 549,1399 549.6,1396.9 550.2,1394.8 550.7,1392.7 551.3,1390.5 551.8,1388.4 552.3,1386.2 552.8,1384.1 553.3,1381.9 553.8,1379.8 554.3,1377.6 554.8,1375.5 555.2,1373.3 555.7,1371.1 556.1,1369 556.6,1366.8 557,1364.6 557.4,1362.5 557.8,1360.3 558.2,1358.1 558.6,1356 559,1353.8 559.4,1351.6 559.8,1349.5 560.1,1347.3 560.5,1345.1 560.9,1342.9 561.2,1340.7 561.5,1338.6 561.9,1336.4 562.2,1334.2 562.5,1332 562.8,1329.8 563.2,1327.6 563.5,1325.5 563.7,1323.3 564,1321.1 564.3,1318.9 564.5,1316.7 564.8,1314.5 565.1,1312.3 565.3,1310.1 565.5,1307.9 565.8,1305.7 566,1303.5 566.3,1301.3 566.5,1299.1 566.7,1296.9 567,1294.8 567.2,1292.6 567.5,1290.4 567.7,1288.2 567.9,1286 568.2,1283.8 568.4,1281.6 568.6,1279.4 568.9,1277.2 569.1,1275 569.3,1272.8 569.6,1270.6 569.8,1268.4 570.1,1266.2 570.3,1264 570.6,1261.8 570.9,1259.7 571.2,1257.5 571.5,1255.3 571.8,1253.1 572.2,1250.9 572.5,1248.7 572.8,1246.6 573.2,1244.4 573.6,1242.2 573.9,1240 574.3,1237.8 574.7,1235.7 575.1,1233.5 575.5,1231.3 575.9,1229.2 576.3,1227 576.7,1224.8 577.1,1222.7 577.5,1220.5 578,1218.3 578.5,1216.2 579,1214 579.5,1211.9 580.1,1209.8 580.7,1207.6 581.2,1205.5 581.8,1203.4 582.5,1201.3 583.4,1199.3 585.1,1199.2 586,1201.1 586.7,1203.2 587.3,1205.4 587.9,1207.5 588.4,1209.6 589,1211.8 589.5,1213.9 589.9,1216.1 590.4,1218.2 590.7,1220.4 591.1,1222.6 591.5,1224.8 591.9,1226.9 592.2,1229.1 592.6,1231.3 593,1233.5 593.4,1235.6 593.8,1237.8 594.2,1240 594.6,1242.2 595,1244.3 595.4,1246.5 595.8,1248.7 596.2,1250.8 596.6,1253 597,1255.2 597.3,1257.4 597.7,1259.5 598,1261.7 598.3,1263.9 598.6,1266.1 599,1268.3 599.2,1270.5 599.5,1272.7 599.8,1274.8 600.1,1277 600.4,1279.2 600.7,1281.4 600.9,1283.6 601.2,1285.8 601.5,1288 601.8,1290.2 602.1,1292.4 602.3,1294.6 602.6,1296.7 602.9,1298.9 603.1,1301.1 603.4,1303.3 603.7,1305.5 604,1307.7 604.2,1309.9 604.5,1312.1 604.8,1314.3 605.1,1316.5 605.3,1318.6 605.6,1320.8 605.9,1323 606.2,1325.2 606.4,1327.4 606.7,1329.6 607,1331.8 607.2,1334 607.5,1336.2 607.8,1338.4 608.1,1340.5 608.4,1342.7 608.6,1344.9 608.9,1347.1 609.2,1349.3 609.4,1351.5 609.7,1353.7 609.9,1355.9 610.2,1358.1 610.5,1360.3 610.8,1362.5 611,1364.6 611.3,1366.8 611.6,1369 612,1371.2 612.3,1373.4 612.7,1375.5 613.2,1377.7 613.6,1379.9 614.1,1382 614.6,1384.2 615.1,1386.3 615.6,1388.5 616.1,1390.6 616.6,1392.8 617.2,1394.9 617.7,1397.1 618.2,1399.2 618.7,1401.3 619.2,1403.5 619.7,1405.6 620.3,1407.8 620.8,1409.9 621.3,1412.1 621.8,1414.2 622.3,1416.4 622.8,1418.5 623.2,1420.7 623.7,1422.8 624.2,1425 624.7,1427.1 625.3,1429.3 625.9,1431.4 626.4,1433.5 626.9,1435.7 627.5,1437.8 628.1,1439.9 628.9,1442 630.1,1443.8 632.1,1444.7 634.3,1445.3 636.4,1445.7 638.6,1446 640.8,1446.2 643,1446.3" fill="none" stroke="#ffff00" stroke-width="2" stroke-linejoin="round" marker-start="url(#mby)" marker-mid="url(#mby)" marker-end="url(#mby)"/>
<polyline points="585.5,1444.9 587.8,1444.9 590,1444.9 592.2,1444.9 594.4,1444.9 596.6,1444.9 598.8,1444.9 601,1444.9 603.2,1444.9 605.4,1444.9 607.6,1444.9 609.8,1444.9 612,1444.9 614.3,1444.9 616.5,1444.9 618.7,1444.9 620.9,1444.9 623.1,1444.9 625.3,1444.9 627.5,1444.9 629.7,1444.9 631.9,1444.7 634.1,1444.5 636.3,1444.1 638.3,1443.3 640.3,1442.3 642.2,1441.1 644,1439.9 645.8,1438.5 647.4,1437 648.9,1435.5 650.4,1433.8 651.9,1432.2 653.3,1430.5 654.8,1428.8 656.2,1427.2 657.6,1425.5 659,1423.7 660.3,1422 661.7,1420.2 663,1418.4 664.3,1416.7 665.6,1414.9 666.9,1413.1 668.2,1411.4 669.5,1409.6 670.8,1407.7 672.1,1405.9 673.4,1404.2 674.7,1402.4 676.1,1400.7 677.4,1398.9 678.9,1397.2 680.3,1395.5 681.7,1393.9 683.2,1392.2 684.5,1390.5 685.9,1388.8 687.5,1387.2 689.3,1385.9 691.3,1384.9 693.3,1384.2 695.5,1384 697.7,1384.1 699.9,1384.5 702,1385 703.8,1386.3 705.4,1387.8 706.9,1389.5 708.3,1391.1 709.7,1392.9 710.9,1394.7 712.1,1396.6 713.3,1398.4 714.5,1400.3 715.7,1402.1 716.9,1404 718,1405.9 719.2,1407.7 720.4,1409.6 721.6,1411.5 722.7,1413.4 723.8,1415.3 725,1417.2 726.1,1419.1 727.3,1420.9 728.5,1422.8 729.7,1424.6 730.9,1426.5 732.1,1428.3 733.4,1430.1 734.7,1431.9 736.2,1433.5 737.7,1435.1 739.3,1436.7 740.9,1438.2 742.6,1439.6 744.6,1440.6 746.7,1441.2 748.8,1441.8 751,1442.2 753.2,1442.6 755.4,1442.9 757.6,1443.2 759.8,1443.4 762,1443.6 764.1,1443.8 766.4,1444 768.6,1444.2 770.8,1444.3 773,1444.4 775.2,1444.4" fill="none" stroke="#ff00ff" stroke-width="2" stroke-linejoin="round" marker-start="url(#mbm)" marker-mid="url(#mbm)" marker-end="url(#mbm)"/>
<polyline points="119.6,1445.8 121.8,1445.8 124,1445.8 126.2,1445.8 128.4,1445.8 130.6,1445.8 132.8,1445.8 135,1445.8 137.2,1445.8 139.4,1445.8 141.6,1445.8 143.8,1445.8 146,1445.8 148.2,1445.8 150.4,1445.8 152.6,1445.8 154.8,1445.8 157,1445.8 159.2,1445.8 161.4,1445.8 163.6,1445.8 165.8,1445.8 168,1445.8 170.2,1445.8 172.4,1445.8 174.6,1445.8 176.8,1445.8 179,1445.8 181.2,1445.8 183.4,1445.8 185.6,1445.8 187.8,1445.8 190,1445.8 192.2,1445.8 194.5,1445.8 196.7,1445.8 198.9,1445.8 201.1,1445.8 203.3,1445.8 205.5,1445.8 207.7,1445.8 209.9,1445.8 212.1,1445.8 214.3,1445.8 216.5,1445.8 218.7,1445.8 220.9,1445.8 223.1,1445.8 225.3,1445.8 227.5,1445.8 229.7,1445.8 231.9,1445.8 234.1,1445.8 236.3,1445.8 238.5,1445.8 240.7,1445.8 242.9,1445.8 245.1,1445.8 247.3,1445.8 249.5,1445.8 251.7,1445.8 253.9,1445.8 256.1,1445.8 258.3,1445.8 260.5,1445.8 262.7,1445.8 264.9,1445.8 267.1,1445.8 269.3,1445.8 271.5,1445.8 273.7,1445.8 275.9,1445.8 278.1,1445.8 280.3,1445.8 282.5,1445.8 284.7,1445.8 286.9,1445.8 289.1,1445.8 291.3,1445.8 293.5,1445.8 295.7,1445.8 297.9,1445.8 300.1,1445.8 302.3,1445.8 304.5,1445.8 306.7,1445.8 308.9,1445.8 311.1,1445.8 313.3,1445.8 315.5,1445.8 317.7,1445.8 319.9,1445.8 322.1,1445.8 324.3,1445.8 326.5,1445.8 328.7,1445.8 330.9,1445.8 333.1,1445.8 335.3,1445.8 337.5,1445.8 339.7,1445.8 341.9,1445.8 344.2,1445.8 346.4,1445.8 348.6,1445.8 350.8,1445.8 353,1445.8 355.2,1445.8 357.4,1445.8 359.6,1445.8 361.8,1445.8 364,1445.8 366.2,1445.8 368.4,1445.8 370.6,1445.8 372.8,1445.8 375,1445.8 377.2,1445.8 379.4,1445.8 381.6,1445.8 383.8,1445.8 386,1445.8 388.2,1445.8 390.4,1445.8 392.6,1445.8 394.8,1445.8 397,1445.8 399.2,1445.8 401.4,1445.8 403.6,1445.8 405.8,1445.8 408,1445.8 410.2,1445.8 412.4,1445.8 414.6,1445.8 416.8,1445.8 419,1445.8 421.2,1445.8 423.4,1445.8 425.6,1445.8 427.8,1445.8 430,1445.8 432.2,1445.8 434.4,1445.8 436.6,1445.8 438.8,1445.8 441,1445.8 443.2,1445.8 445.4,1445.8 447.6,1445.8 449.8,1445.8 452,1445.8 454.2,1445.8 456.4,1445.8 458.6,1445.8 460.8,1445.8 463,1445.8 465.2,1445.8 467.4,1445.8 469.6,1445.8 471.8,1445.8 474,1445.8 476.2,1445.8 478.4,1445.8 480.6,1445.8 482.8,1445.8 485,1445.8 487.2,1445.8 489.4,1445.8 491.7,1445.8 493.9,1445.8 496.1,1445.8 498.3,1445.8 500.5,1445.8 502.7,1445.8 504.9,1445.8 507.1,1445.8 509.3,1445.8 511.5,1445.8 513.7,1445.8 515.9,1445.8 518.1,1445.8 520.3,1445.8 522.5,1445.8 524.7,1445.8 526.9,1445.8 529.1,1445.8 531.3,1445.8 533.5,1445.8 535.7,1445.8 537.9,1445.8 540.1,1445.8 542.3,1445.8 544.5,1445.8 546.7,1445.8 548.9,1445.8 551.1,1445.8 553.3,1445.8 555.5,1445.8 557.7,1445.8 559.9,1445.8 562.1,1445.8 564.3,1445.8 566.5,1445.8 568.7,1445.8 570.9,1445.8 573.1,1445.8 575.3,1445.8 577.5,1445.8 579.7,1445.8 581.9,1445.8 584.1,1445.8 586.3,1445.8 588.5,1445.8 590.7,1445.8 592.9,1445.8 595.1,1445.8 597.3,1445.8 599.5,1445.8 601.7,1445.8 603.9,1445.8 606.1,1445.8 608.3,1445.8 610.5,1445.8 612.7,1445.8 614.9,1445.8 617.1,1445.8 619.3,1445.8 621.5,1445.8 623.7,1445.8 625.9,1445.8 628.1,1445.8 630.3,1445.8 632.5,1445.8 634.7,1445.8 636.9,1445.8 639.1,1445.8 641.4,1445.8 643.6,1445.8 645.8,1445.8 648,1445.8 650.2,1445.8 652.4,1445.8 654.6,1445.8 656.8,1445.8 659,1445.8 661.2,1445.8 663.4,1445.8 665.6,1445.8 667.8,1445.8 670,1445.7 672.2,1445.6 674.4,1445.5 676.6,1445.3 678.7,1445.1 680.9,1444.8 683.1,1444.5 685.3,1444 687.4,1443.4 689.5,1442.8 691.6,1442.3 693.8,1441.7 695.9,1441.2 698,1440.6 700.1,1439.9 702.2,1439.2 704.2,1438.4 706.3,1437.6 708.3,1436.6 710.2,1435.6 712.1,1434.4 713.8,1433 715.4,1431.5 717,1430 718.6,1428.5 720.2,1427 721.8,1425.4 723.3,1423.9 724.9,1422.4 726.5,1420.8 728.1,1419.3 729.7,1417.8 731.3,1416.3 732.9,1414.8 734.5,1413.3 736.2,1411.9 738,1410.6 740,1409.6 741.9,1408.7 744,1407.9 746.2,1407.5 748.3,1407.1 750.5,1406.8 752.7,1406.7 754.9,1406.7 757.1,1406.9 759.3,1407.1 761.5,1407.4 763.6,1408 765.6,1408.9 767.6,1409.8 769.4,1411.1 771.1,1412.5 772.8,1414 774.4,1415.4 775.9,1417 777.5,1418.6 778.9,1420.2 780.4,1421.8 781.9,1423.5 783.4,1425.1 784.8,1426.7 786.3,1428.4 787.8,1430 789.3,1431.7 790.8,1433.2 792.4,1434.7 794,1436.2 795.7,1437.7 797.4,1439 799.3,1440.2 801.2,1441.3 803.1,1442.4 805.1,1443.3 807.2,1443.9 809.4,1444.1 811.6,1444.3 813.8,1444.4 816,1444.4 818.2,1444.4 820.4,1444.4 822.6,1444.4 824.8,1444.4 827,1444.4 829.2,1444.4 831.4,1444.4 833.6,1444.4" fill="none" stroke="#00ffff" stroke-width="2" stroke-linejoin="round" marker-start="url(#mbc)" marker-mid="url(#mbc)" marker-end="url(#mbc)"/>
</g>
<g font-family='"Liberation Sans", Arial, Helvetica, sans-serif' font-size="28.6" letter-spacing="-0.8" fill="#000" stroke="#fff" stroke-width="0.25">
<g text-anchor="middle" letter-spacing="-1.7">
<text x="118.6" y="1593.5">0</text>
<text x="215.3" y="1593.5">100</text>
<text x="312.6" y="1593.5">200</text>
<text x="409.9" y="1593.5">300</text>
<text x="507.4" y="1593.5">400</text>
<text x="606.4" y="1593.5">500</text>
<text x="703.6" y="1593.5">600</text>
<text x="801.1" y="1593.5">700</text>
<text x="898.4" y="1593.5">800</text>
<text x="997.9" y="1593.5">900</text>
</g><g text-anchor="end">
<text x="109.1" y="872.7">2.5</text>
<text x="109.1" y="988.7">2</text>
<text x="109.1" y="1106.3">1.5</text>
<text x="109.1" y="1222.9">1</text>
<text x="109.1" y="1339.5">0.5</text>
<text x="109.1" y="1455.7">0</text>
<text x="109.1" y="1571.1">-0.5</text>
</g>
<rect x="810.5" y="878" width="178.7" height="200.8" fill="#fff" stroke="#000" stroke-width="2.1"/>
<path d="M826.3 900.5H906.8" stroke="#0000ff" stroke-width="2" fill="none"/>
<use href="#sbb" x="868" y="901.3" stroke="none"/>
<text x="915.8" y="911.5" letter-spacing="-1.2">1Hz</text>
<path d="M826.3 940H906.8" stroke="#ff0000" stroke-width="2" fill="none"/>
<use href="#sbr" x="868" y="940.8" stroke="none"/>
<text x="915.8" y="951" letter-spacing="-1.2">5Hz</text>
<path d="M826.3 979.3H906.8" stroke="#ffff00" stroke-width="2" fill="none"/>
<use href="#sby" x="868" y="980.1" stroke="none"/>
<text x="915.8" y="990.3" letter-spacing="-1.2">10Hz</text>
<path d="M826.3 1014.5H906.8" stroke="#ff00ff" stroke-width="2" fill="none"/>
<use href="#sbm" x="868" y="1015.3" stroke="none"/>
<text x="915.8" y="1025.5" letter-spacing="-1.2">15Hz</text>
<path d="M826.3 1054H906.8" stroke="#00ffff" stroke-width="2" fill="none"/>
<use href="#sbc" x="868" y="1054.8" stroke="none"/>
<text x="915.8" y="1065" letter-spacing="-1.2">20Hz</text>
</g>
</g>
<g font-family='"Liberation Sans", Arial, Helvetica, sans-serif' font-size="27" fill="#000" text-anchor="middle" stroke="#fff" stroke-width="0.25">
<text x="552.6" y="818.3">time(s)</text>
<text transform="translate(37.8 404.4) rotate(-90)">UV signal</text>
</g>
<g font-family='"Liberation Sans", Arial, Helvetica, sans-serif' font-size="44" fill="#1a1a1a" stroke="#fff" stroke-width="0.3">
<text x="10.3" y="39.3">a<tspan dx="1.6">)</tspan></text>
<text x="10.3" y="839.2">b<tspan dx="1.6">)</tspan></text>
</g>
</svg></body></html>
